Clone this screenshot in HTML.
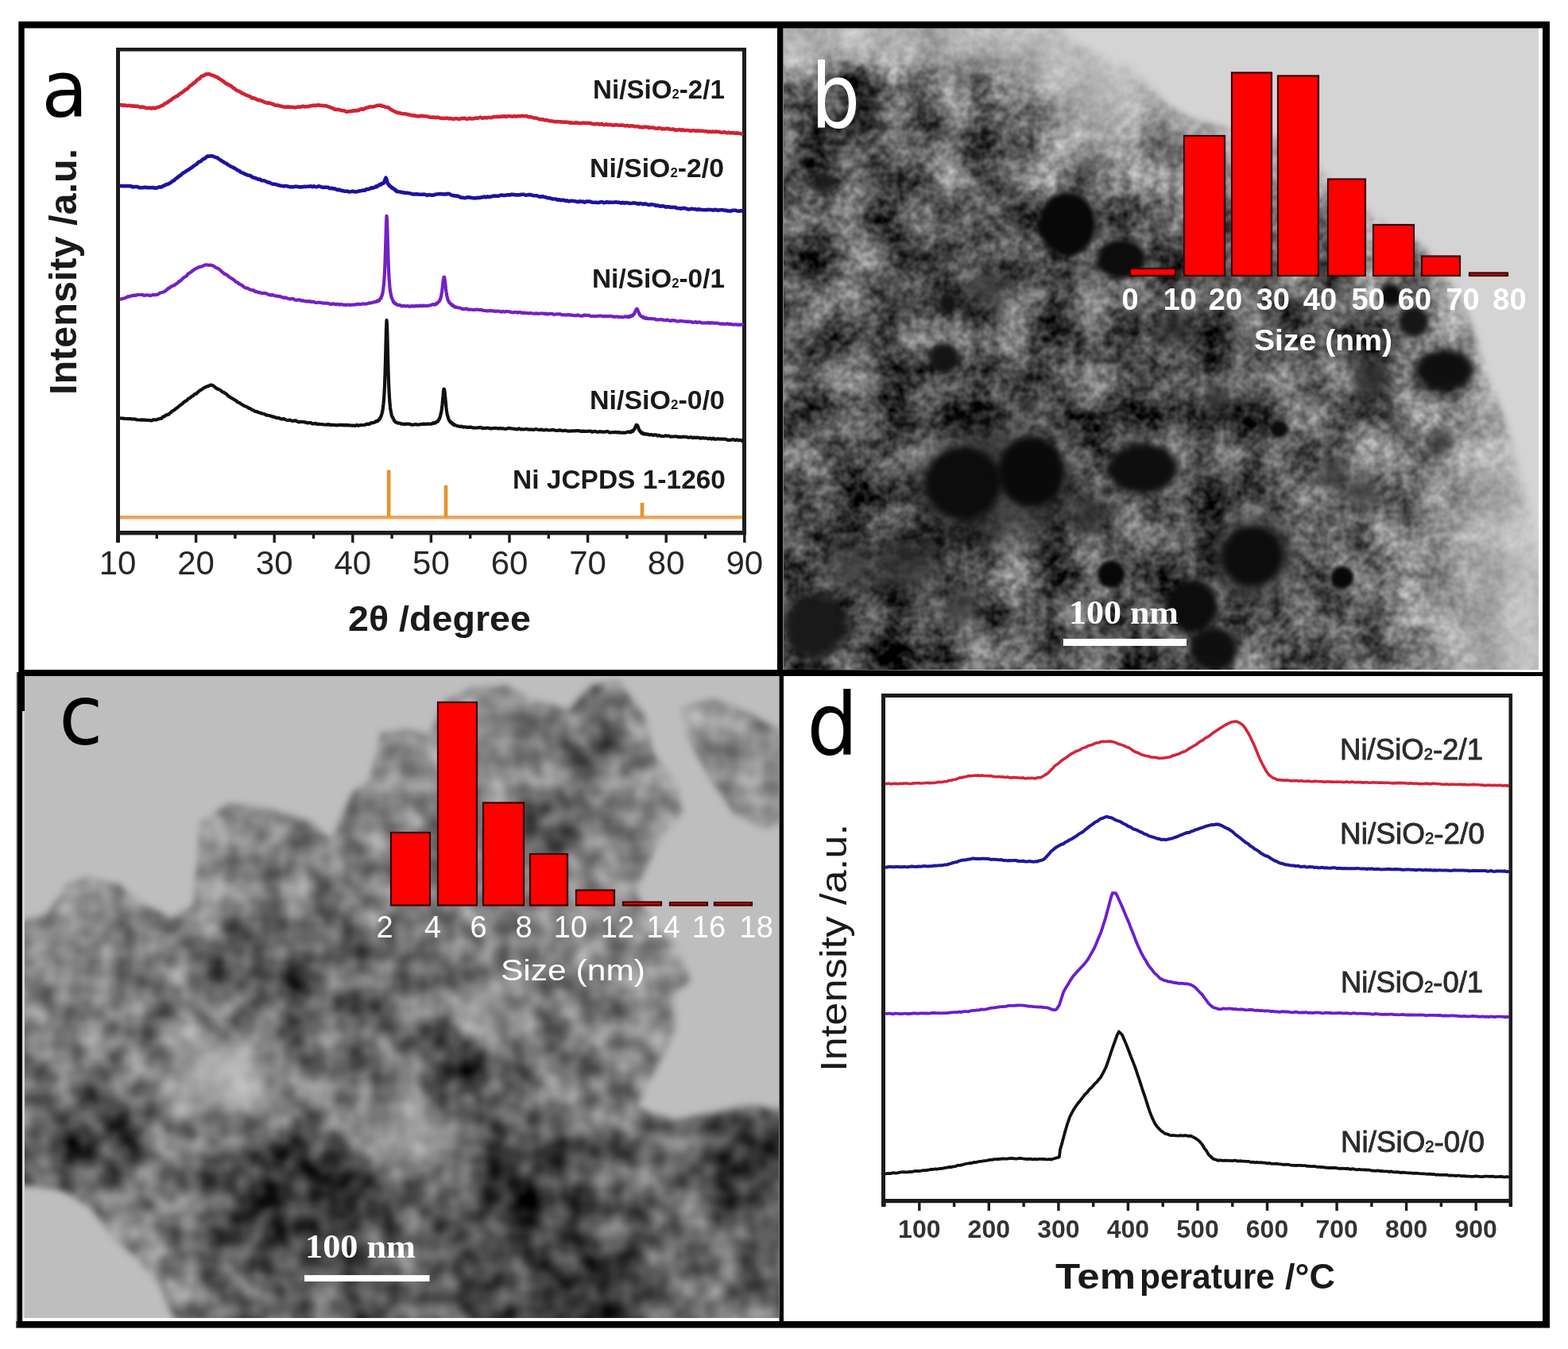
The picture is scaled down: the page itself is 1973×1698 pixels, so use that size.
<!DOCTYPE html><html><head><meta charset="utf-8"><title>Figure</title>
<style>html,body{margin:0;padding:0;background:#fff;overflow:hidden}svg{display:block}text{font-family:"Liberation Sans",Arial,sans-serif}</style></head><body>
<svg width="1973" height="1698" viewBox="0 0 1973 1698">
<rect x="0" y="0" width="1973" height="1698" fill="#fff"/>
<defs>
<clipPath id="clipB"><rect x="986" y="35" width="950" height="808"/></clipPath>
<clipPath id="clipC"><rect x="31" y="851" width="949" height="808"/></clipPath>
<filter id="texB" filterUnits="userSpaceOnUse" x="866" y="-85" width="1190" height="1048" color-interpolation-filters="sRGB">
<feGaussianBlur in="SourceGraphic" stdDeviation="15" result="base"/>
<feComponentTransfer in="base" result="mask"><feFuncR type="linear" slope="-2.8" intercept="2.3"/><feFuncG type="linear" slope="-2.8" intercept="2.3"/><feFuncB type="linear" slope="-2.8" intercept="2.3"/></feComponentTransfer>
<feTurbulence type="fractalNoise" baseFrequency="0.085" numOctaves="2" seed="11" result="n"/>
<feColorMatrix in="n" type="matrix" values="1 0 0 0 0  1 0 0 0 0  1 0 0 0 0  0 0 0 0 1" result="g"/>
<feComposite in="g" in2="mask" operator="arithmetic" k1="0.5" k2="0" k3="-0.25" k4="0.5" result="t"/>
<feComposite in="base" in2="t" operator="arithmetic" k1="0" k2="1" k3="1" k4="-0.5" result="o1"/>
<feTurbulence type="fractalNoise" baseFrequency="0.02" numOctaves="1" seed="16" result="cn"/>
<feColorMatrix in="cn" type="matrix" values="1 0 0 0 0  1 0 0 0 0  1 0 0 0 0  0 0 0 0 1" result="cg"/>
<feComposite in="cg" in2="mask" operator="arithmetic" k1="0.9" k2="0" k3="-0.45" k4="0.5" result="ct"/>
<feComposite in="o1" in2="ct" operator="arithmetic" k1="0" k2="1" k3="1" k4="-0.5"/>
</filter>
<filter id="texC" filterUnits="userSpaceOnUse" x="-89" y="731" width="1189" height="1048" color-interpolation-filters="sRGB">
<feGaussianBlur in="SourceGraphic" stdDeviation="20" result="base"/>
<feComponentTransfer in="base" result="mask"><feFuncR type="linear" slope="-3.0" intercept="2.4"/><feFuncG type="linear" slope="-3.0" intercept="2.4"/><feFuncB type="linear" slope="-3.0" intercept="2.4"/></feComponentTransfer>
<feTurbulence type="fractalNoise" baseFrequency="0.028" numOctaves="2" seed="23" result="n"/>
<feColorMatrix in="n" type="matrix" values="1 0 0 0 0  1 0 0 0 0  1 0 0 0 0  0 0 0 0 1" result="g"/>
<feComposite in="g" in2="mask" operator="arithmetic" k1="0.62" k2="0" k3="-0.31" k4="0.5" result="t"/>
<feComposite in="base" in2="t" operator="arithmetic" k1="0" k2="1" k3="1" k4="-0.5"/>
</filter>
<filter id="mblur" x="-10%" y="-10%" width="120%" height="120%"><feGaussianBlur stdDeviation="4"/></filter>
<filter id="soft" x="-30%" y="-30%" width="160%" height="160%"><feGaussianBlur stdDeviation="3"/></filter>
<filter id="soft2" x="-30%" y="-30%" width="160%" height="160%"><feGaussianBlur stdDeviation="6"/></filter>
</defs>
<mask id="mB" maskUnits="userSpaceOnUse" x="900" y="0" width="1100" height="900"><rect x="900" y="0" width="1100" height="900" fill="#fff"/><polygon points="1333,35 1353,54 1396,74 1421,83 1445,108 1469,132 1500,150 1560,165 1640,178 1672,229 1735,277 1784,306 1808,325 1837,374 1856,422 1871,471 1890,519 1905,567 1919,616 1929,664 1937,713 1950,713 1950,20 1320,20" fill="#000" filter="url(#mblur)"/></mask>
<g clip-path="url(#clipB)">
<rect x="986" y="35" width="950" height="808" fill="#d4d4d4"/>
<g mask="url(#mB)">
<g filter="url(#texB)"><rect x="818.5" y="-135.5" width="168.1" height="171.1" fill="#b4b4b4"/><rect x="986" y="-135.5" width="48.1" height="171.1" fill="#b4b4b4"/><rect x="1033.5" y="-135.5" width="48.1" height="171.1" fill="#b2b2b2"/><rect x="1081" y="-135.5" width="48.1" height="171.1" fill="#afafaf"/><rect x="1128.5" y="-135.5" width="48.1" height="171.1" fill="#acacac"/><rect x="1176" y="-135.5" width="48.1" height="171.1" fill="#b2b2b2"/><rect x="1223.5" y="-135.5" width="48.1" height="171.1" fill="#b4b4b4"/><rect x="1271" y="-135.5" width="48.1" height="171.1" fill="#b6b6b6"/><rect x="1318.5" y="-135.5" width="48.1" height="171.1" fill="#bababa"/><rect x="1366" y="-135.5" width="48.1" height="171.1" fill="#bebebe"/><rect x="1413.5" y="-135.5" width="48.1" height="171.1" fill="#bebebe"/><rect x="1461" y="-135.5" width="48.1" height="171.1" fill="#c4c4c4"/><rect x="1508.5" y="-135.5" width="48.1" height="171.1" fill="#c8c8c8"/><rect x="1556" y="-135.5" width="48.1" height="171.1" fill="#cccccc"/><rect x="1603.5" y="-135.5" width="48.1" height="171.1" fill="#cfcfcf"/><rect x="1651" y="-135.5" width="48.1" height="171.1" fill="#d1d1d1"/><rect x="1698.5" y="-135.5" width="48.1" height="171.1" fill="#d2d2d2"/><rect x="1746" y="-135.5" width="48.1" height="171.1" fill="#d4d4d4"/><rect x="1793.5" y="-135.5" width="48.1" height="171.1" fill="#d4d4d4"/><rect x="1841" y="-135.5" width="48.1" height="171.1" fill="#d4d4d4"/><rect x="1888.5" y="-135.5" width="48.1" height="171.1" fill="#d4d4d4"/><rect x="1936" y="-135.5" width="168.1" height="171.1" fill="#d4d4d4"/><rect x="818.5" y="35" width="168.1" height="51.1" fill="#b4b4b4"/><rect x="986" y="35" width="48.1" height="51.1" fill="#b4b4b4"/><rect x="1033.5" y="35" width="48.1" height="51.1" fill="#b2b2b2"/><rect x="1081" y="35" width="48.1" height="51.1" fill="#afafaf"/><rect x="1128.5" y="35" width="48.1" height="51.1" fill="#acacac"/><rect x="1176" y="35" width="48.1" height="51.1" fill="#b2b2b2"/><rect x="1223.5" y="35" width="48.1" height="51.1" fill="#b4b4b4"/><rect x="1271" y="35" width="48.1" height="51.1" fill="#b6b6b6"/><rect x="1318.5" y="35" width="48.1" height="51.1" fill="#bababa"/><rect x="1366" y="35" width="48.1" height="51.1" fill="#bebebe"/><rect x="1413.5" y="35" width="48.1" height="51.1" fill="#bebebe"/><rect x="1461" y="35" width="48.1" height="51.1" fill="#c4c4c4"/><rect x="1508.5" y="35" width="48.1" height="51.1" fill="#c8c8c8"/><rect x="1556" y="35" width="48.1" height="51.1" fill="#cccccc"/><rect x="1603.5" y="35" width="48.1" height="51.1" fill="#cfcfcf"/><rect x="1651" y="35" width="48.1" height="51.1" fill="#d1d1d1"/><rect x="1698.5" y="35" width="48.1" height="51.1" fill="#d2d2d2"/><rect x="1746" y="35" width="48.1" height="51.1" fill="#d4d4d4"/><rect x="1793.5" y="35" width="48.1" height="51.1" fill="#d4d4d4"/><rect x="1841" y="35" width="48.1" height="51.1" fill="#d4d4d4"/><rect x="1888.5" y="35" width="48.1" height="51.1" fill="#d4d4d4"/><rect x="1936" y="35" width="168.1" height="51.1" fill="#d4d4d4"/><rect x="818.5" y="85.5" width="168.1" height="51.1" fill="#737373"/><rect x="986" y="85.5" width="48.1" height="51.1" fill="#737373"/><rect x="1033.5" y="85.5" width="48.1" height="51.1" fill="#373737"/><rect x="1081" y="85.5" width="48.1" height="51.1" fill="#3a3a3a"/><rect x="1128.5" y="85.5" width="48.1" height="51.1" fill="#555555"/><rect x="1176" y="85.5" width="48.1" height="51.1" fill="#878787"/><rect x="1223.5" y="85.5" width="48.1" height="51.1" fill="#737373"/><rect x="1271" y="85.5" width="48.1" height="51.1" fill="#969696"/><rect x="1318.5" y="85.5" width="48.1" height="51.1" fill="#b4b4b4"/><rect x="1366" y="85.5" width="48.1" height="51.1" fill="#bebebe"/><rect x="1413.5" y="85.5" width="48.1" height="51.1" fill="#afafaf"/><rect x="1461" y="85.5" width="48.1" height="51.1" fill="#b6b6b6"/><rect x="1508.5" y="85.5" width="48.1" height="51.1" fill="#bdbdbd"/><rect x="1556" y="85.5" width="48.1" height="51.1" fill="#c5c5c5"/><rect x="1603.5" y="85.5" width="48.1" height="51.1" fill="#cbcbcb"/><rect x="1651" y="85.5" width="48.1" height="51.1" fill="#cecece"/><rect x="1698.5" y="85.5" width="48.1" height="51.1" fill="#d1d1d1"/><rect x="1746" y="85.5" width="48.1" height="51.1" fill="#d3d3d3"/><rect x="1793.5" y="85.5" width="48.1" height="51.1" fill="#d4d4d4"/><rect x="1841" y="85.5" width="48.1" height="51.1" fill="#d4d4d4"/><rect x="1888.5" y="85.5" width="48.1" height="51.1" fill="#d4d4d4"/><rect x="1936" y="85.5" width="168.1" height="51.1" fill="#d4d4d4"/><rect x="818.5" y="136" width="168.1" height="51.1" fill="#5a5a5a"/><rect x="986" y="136" width="48.1" height="51.1" fill="#5a5a5a"/><rect x="1033.5" y="136" width="48.1" height="51.1" fill="#373737"/><rect x="1081" y="136" width="48.1" height="51.1" fill="#373737"/><rect x="1128.5" y="136" width="48.1" height="51.1" fill="#4b4b4b"/><rect x="1176" y="136" width="48.1" height="51.1" fill="#878787"/><rect x="1223.5" y="136" width="48.1" height="51.1" fill="#464646"/><rect x="1271" y="136" width="48.1" height="51.1" fill="#505050"/><rect x="1318.5" y="136" width="48.1" height="51.1" fill="#969696"/><rect x="1366" y="136" width="48.1" height="51.1" fill="#a8a8a8"/><rect x="1413.5" y="136" width="48.1" height="51.1" fill="#919191"/><rect x="1461" y="136" width="48.1" height="51.1" fill="#9a9a9a"/><rect x="1508.5" y="136" width="48.1" height="51.1" fill="#a7a7a7"/><rect x="1556" y="136" width="48.1" height="51.1" fill="#b8b8b8"/><rect x="1603.5" y="136" width="48.1" height="51.1" fill="#c3c3c3"/><rect x="1651" y="136" width="48.1" height="51.1" fill="#c9c9c9"/><rect x="1698.5" y="136" width="48.1" height="51.1" fill="#cecece"/><rect x="1746" y="136" width="48.1" height="51.1" fill="#d1d1d1"/><rect x="1793.5" y="136" width="48.1" height="51.1" fill="#d3d3d3"/><rect x="1841" y="136" width="48.1" height="51.1" fill="#d4d4d4"/><rect x="1888.5" y="136" width="48.1" height="51.1" fill="#d4d4d4"/><rect x="1936" y="136" width="168.1" height="51.1" fill="#d4d4d4"/><rect x="818.5" y="186.5" width="168.1" height="51.1" fill="#555555"/><rect x="986" y="186.5" width="48.1" height="51.1" fill="#555555"/><rect x="1033.5" y="186.5" width="48.1" height="51.1" fill="#505050"/><rect x="1081" y="186.5" width="48.1" height="51.1" fill="#4b4b4b"/><rect x="1128.5" y="186.5" width="48.1" height="51.1" fill="#6e6e6e"/><rect x="1176" y="186.5" width="48.1" height="51.1" fill="#808080"/><rect x="1223.5" y="186.5" width="48.1" height="51.1" fill="#4b4b4b"/><rect x="1271" y="186.5" width="48.1" height="51.1" fill="#696969"/><rect x="1318.5" y="186.5" width="48.1" height="51.1" fill="#848484"/><rect x="1366" y="186.5" width="48.1" height="51.1" fill="#8c8c8c"/><rect x="1413.5" y="186.5" width="48.1" height="51.1" fill="#777777"/><rect x="1461" y="186.5" width="48.1" height="51.1" fill="#7f7f7f"/><rect x="1508.5" y="186.5" width="48.1" height="51.1" fill="#8d8d8d"/><rect x="1556" y="186.5" width="48.1" height="51.1" fill="#9f9f9f"/><rect x="1603.5" y="186.5" width="48.1" height="51.1" fill="#adadad"/><rect x="1651" y="186.5" width="48.1" height="51.1" fill="#b6b6b6"/><rect x="1698.5" y="186.5" width="48.1" height="51.1" fill="#bebebe"/><rect x="1746" y="186.5" width="48.1" height="51.1" fill="#c4c4c4"/><rect x="1793.5" y="186.5" width="48.1" height="51.1" fill="#c9c9c9"/><rect x="1841" y="186.5" width="48.1" height="51.1" fill="#cfcfcf"/><rect x="1888.5" y="186.5" width="48.1" height="51.1" fill="#d2d2d2"/><rect x="1936" y="186.5" width="168.1" height="51.1" fill="#d2d2d2"/><rect x="818.5" y="237" width="168.1" height="51.1" fill="#585858"/><rect x="986" y="237" width="48.1" height="51.1" fill="#585858"/><rect x="1033.5" y="237" width="48.1" height="51.1" fill="#565656"/><rect x="1081" y="237" width="48.1" height="51.1" fill="#525252"/><rect x="1128.5" y="237" width="48.1" height="51.1" fill="#515151"/><rect x="1176" y="237" width="48.1" height="51.1" fill="#535353"/><rect x="1223.5" y="237" width="48.1" height="51.1" fill="#545454"/><rect x="1271" y="237" width="48.1" height="51.1" fill="#555555"/><rect x="1318.5" y="237" width="48.1" height="51.1" fill="#585858"/><rect x="1366" y="237" width="48.1" height="51.1" fill="#5c5c5c"/><rect x="1413.5" y="237" width="48.1" height="51.1" fill="#616161"/><rect x="1461" y="237" width="48.1" height="51.1" fill="#666666"/><rect x="1508.5" y="237" width="48.1" height="51.1" fill="#6e6e6e"/><rect x="1556" y="237" width="48.1" height="51.1" fill="#7b7b7b"/><rect x="1603.5" y="237" width="48.1" height="51.1" fill="#888888"/><rect x="1651" y="237" width="48.1" height="51.1" fill="#959595"/><rect x="1698.5" y="237" width="48.1" height="51.1" fill="#a1a1a1"/><rect x="1746" y="237" width="48.1" height="51.1" fill="#ababab"/><rect x="1793.5" y="237" width="48.1" height="51.1" fill="#b7b7b7"/><rect x="1841" y="237" width="48.1" height="51.1" fill="#c5c5c5"/><rect x="1888.5" y="237" width="48.1" height="51.1" fill="#cccccc"/><rect x="1936" y="237" width="168.1" height="51.1" fill="#cccccc"/><rect x="818.5" y="287.5" width="168.1" height="51.1" fill="#5c5c5c"/><rect x="986" y="287.5" width="48.1" height="51.1" fill="#5c5c5c"/><rect x="1033.5" y="287.5" width="48.1" height="51.1" fill="#5a5a5a"/><rect x="1081" y="287.5" width="48.1" height="51.1" fill="#565656"/><rect x="1128.5" y="287.5" width="48.1" height="51.1" fill="#535353"/><rect x="1176" y="287.5" width="48.1" height="51.1" fill="#515151"/><rect x="1223.5" y="287.5" width="48.1" height="51.1" fill="#505050"/><rect x="1271" y="287.5" width="48.1" height="51.1" fill="#505050"/><rect x="1318.5" y="287.5" width="48.1" height="51.1" fill="#515151"/><rect x="1366" y="287.5" width="48.1" height="51.1" fill="#525252"/><rect x="1413.5" y="287.5" width="48.1" height="51.1" fill="#535353"/><rect x="1461" y="287.5" width="48.1" height="51.1" fill="#555555"/><rect x="1508.5" y="287.5" width="48.1" height="51.1" fill="#5a5a5a"/><rect x="1556" y="287.5" width="48.1" height="51.1" fill="#626262"/><rect x="1603.5" y="287.5" width="48.1" height="51.1" fill="#6c6c6c"/><rect x="1651" y="287.5" width="48.1" height="51.1" fill="#787878"/><rect x="1698.5" y="287.5" width="48.1" height="51.1" fill="#848484"/><rect x="1746" y="287.5" width="48.1" height="51.1" fill="#8f8f8f"/><rect x="1793.5" y="287.5" width="48.1" height="51.1" fill="#a0a0a0"/><rect x="1841" y="287.5" width="48.1" height="51.1" fill="#b7b7b7"/><rect x="1888.5" y="287.5" width="48.1" height="51.1" fill="#c2c2c2"/><rect x="1936" y="287.5" width="168.1" height="51.1" fill="#c2c2c2"/><rect x="818.5" y="338" width="168.1" height="51.1" fill="#5a5a5a"/><rect x="986" y="338" width="48.1" height="51.1" fill="#5a5a5a"/><rect x="1033.5" y="338" width="48.1" height="51.1" fill="#595959"/><rect x="1081" y="338" width="48.1" height="51.1" fill="#575757"/><rect x="1128.5" y="338" width="48.1" height="51.1" fill="#535353"/><rect x="1176" y="338" width="48.1" height="51.1" fill="#4d4d4d"/><rect x="1223.5" y="338" width="48.1" height="51.1" fill="#4c4c4c"/><rect x="1271" y="338" width="48.1" height="51.1" fill="#4f4f4f"/><rect x="1318.5" y="338" width="48.1" height="51.1" fill="#505050"/><rect x="1366" y="338" width="48.1" height="51.1" fill="#4f4f4f"/><rect x="1413.5" y="338" width="48.1" height="51.1" fill="#4e4e4e"/><rect x="1461" y="338" width="48.1" height="51.1" fill="#4d4d4d"/><rect x="1508.5" y="338" width="48.1" height="51.1" fill="#4f4f4f"/><rect x="1556" y="338" width="48.1" height="51.1" fill="#555555"/><rect x="1603.5" y="338" width="48.1" height="51.1" fill="#5a5a5a"/><rect x="1651" y="338" width="48.1" height="51.1" fill="#606060"/><rect x="1698.5" y="338" width="48.1" height="51.1" fill="#686868"/><rect x="1746" y="338" width="48.1" height="51.1" fill="#707070"/><rect x="1793.5" y="338" width="48.1" height="51.1" fill="#848484"/><rect x="1841" y="338" width="48.1" height="51.1" fill="#a4a4a4"/><rect x="1888.5" y="338" width="48.1" height="51.1" fill="#b4b4b4"/><rect x="1936" y="338" width="168.1" height="51.1" fill="#b4b4b4"/><rect x="818.5" y="388.5" width="168.1" height="51.1" fill="#575757"/><rect x="986" y="388.5" width="48.1" height="51.1" fill="#575757"/><rect x="1033.5" y="388.5" width="48.1" height="51.1" fill="#565656"/><rect x="1081" y="388.5" width="48.1" height="51.1" fill="#555555"/><rect x="1128.5" y="388.5" width="48.1" height="51.1" fill="#515151"/><rect x="1176" y="388.5" width="48.1" height="51.1" fill="#4b4b4b"/><rect x="1223.5" y="388.5" width="48.1" height="51.1" fill="#4a4a4a"/><rect x="1271" y="388.5" width="48.1" height="51.1" fill="#4d4d4d"/><rect x="1318.5" y="388.5" width="48.1" height="51.1" fill="#4e4e4e"/><rect x="1366" y="388.5" width="48.1" height="51.1" fill="#4d4d4d"/><rect x="1413.5" y="388.5" width="48.1" height="51.1" fill="#4c4c4c"/><rect x="1461" y="388.5" width="48.1" height="51.1" fill="#4a4a4a"/><rect x="1508.5" y="388.5" width="48.1" height="51.1" fill="#4c4c4c"/><rect x="1556" y="388.5" width="48.1" height="51.1" fill="#505050"/><rect x="1603.5" y="388.5" width="48.1" height="51.1" fill="#535353"/><rect x="1651" y="388.5" width="48.1" height="51.1" fill="#555555"/><rect x="1698.5" y="388.5" width="48.1" height="51.1" fill="#595959"/><rect x="1746" y="388.5" width="48.1" height="51.1" fill="#5f5f5f"/><rect x="1793.5" y="388.5" width="48.1" height="51.1" fill="#747474"/><rect x="1841" y="388.5" width="48.1" height="51.1" fill="#989898"/><rect x="1888.5" y="388.5" width="48.1" height="51.1" fill="#aaaaaa"/><rect x="1936" y="388.5" width="168.1" height="51.1" fill="#aaaaaa"/><rect x="818.5" y="439" width="168.1" height="51.1" fill="#515151"/><rect x="986" y="439" width="48.1" height="51.1" fill="#515151"/><rect x="1033.5" y="439" width="48.1" height="51.1" fill="#515151"/><rect x="1081" y="439" width="48.1" height="51.1" fill="#515151"/><rect x="1128.5" y="439" width="48.1" height="51.1" fill="#4f4f4f"/><rect x="1176" y="439" width="48.1" height="51.1" fill="#4a4a4a"/><rect x="1223.5" y="439" width="48.1" height="51.1" fill="#494949"/><rect x="1271" y="439" width="48.1" height="51.1" fill="#4b4b4b"/><rect x="1318.5" y="439" width="48.1" height="51.1" fill="#4c4c4c"/><rect x="1366" y="439" width="48.1" height="51.1" fill="#4e4e4e"/><rect x="1413.5" y="439" width="48.1" height="51.1" fill="#4e4e4e"/><rect x="1461" y="439" width="48.1" height="51.1" fill="#4d4d4d"/><rect x="1508.5" y="439" width="48.1" height="51.1" fill="#4f4f4f"/><rect x="1556" y="439" width="48.1" height="51.1" fill="#545454"/><rect x="1603.5" y="439" width="48.1" height="51.1" fill="#565656"/><rect x="1651" y="439" width="48.1" height="51.1" fill="#565656"/><rect x="1698.5" y="439" width="48.1" height="51.1" fill="#585858"/><rect x="1746" y="439" width="48.1" height="51.1" fill="#5c5c5c"/><rect x="1793.5" y="439" width="48.1" height="51.1" fill="#707070"/><rect x="1841" y="439" width="48.1" height="51.1" fill="#939393"/><rect x="1888.5" y="439" width="48.1" height="51.1" fill="#a4a4a4"/><rect x="1936" y="439" width="168.1" height="51.1" fill="#a4a4a4"/><rect x="818.5" y="489.5" width="168.1" height="51.1" fill="#505050"/><rect x="986" y="489.5" width="48.1" height="51.1" fill="#505050"/><rect x="1033.5" y="489.5" width="48.1" height="51.1" fill="#505050"/><rect x="1081" y="489.5" width="48.1" height="51.1" fill="#505050"/><rect x="1128.5" y="489.5" width="48.1" height="51.1" fill="#4e4e4e"/><rect x="1176" y="489.5" width="48.1" height="51.1" fill="#494949"/><rect x="1223.5" y="489.5" width="48.1" height="51.1" fill="#474747"/><rect x="1271" y="489.5" width="48.1" height="51.1" fill="#484848"/><rect x="1318.5" y="489.5" width="48.1" height="51.1" fill="#4a4a4a"/><rect x="1366" y="489.5" width="48.1" height="51.1" fill="#4d4d4d"/><rect x="1413.5" y="489.5" width="48.1" height="51.1" fill="#4e4e4e"/><rect x="1461" y="489.5" width="48.1" height="51.1" fill="#4e4e4e"/><rect x="1508.5" y="489.5" width="48.1" height="51.1" fill="#515151"/><rect x="1556" y="489.5" width="48.1" height="51.1" fill="#575757"/><rect x="1603.5" y="489.5" width="48.1" height="51.1" fill="#5a5a5a"/><rect x="1651" y="489.5" width="48.1" height="51.1" fill="#5a5a5a"/><rect x="1698.5" y="489.5" width="48.1" height="51.1" fill="#5c5c5c"/><rect x="1746" y="489.5" width="48.1" height="51.1" fill="#626262"/><rect x="1793.5" y="489.5" width="48.1" height="51.1" fill="#757575"/><rect x="1841" y="489.5" width="48.1" height="51.1" fill="#969696"/><rect x="1888.5" y="489.5" width="48.1" height="51.1" fill="#a6a6a6"/><rect x="1936" y="489.5" width="168.1" height="51.1" fill="#a6a6a6"/><rect x="818.5" y="540" width="168.1" height="51.1" fill="#545454"/><rect x="986" y="540" width="48.1" height="51.1" fill="#545454"/><rect x="1033.5" y="540" width="48.1" height="51.1" fill="#535353"/><rect x="1081" y="540" width="48.1" height="51.1" fill="#515151"/><rect x="1128.5" y="540" width="48.1" height="51.1" fill="#4d4d4d"/><rect x="1176" y="540" width="48.1" height="51.1" fill="#474747"/><rect x="1223.5" y="540" width="48.1" height="51.1" fill="#444444"/><rect x="1271" y="540" width="48.1" height="51.1" fill="#454545"/><rect x="1318.5" y="540" width="48.1" height="51.1" fill="#474747"/><rect x="1366" y="540" width="48.1" height="51.1" fill="#4b4b4b"/><rect x="1413.5" y="540" width="48.1" height="51.1" fill="#4c4c4c"/><rect x="1461" y="540" width="48.1" height="51.1" fill="#4c4c4c"/><rect x="1508.5" y="540" width="48.1" height="51.1" fill="#515151"/><rect x="1556" y="540" width="48.1" height="51.1" fill="#595959"/><rect x="1603.5" y="540" width="48.1" height="51.1" fill="#5e5e5e"/><rect x="1651" y="540" width="48.1" height="51.1" fill="#606060"/><rect x="1698.5" y="540" width="48.1" height="51.1" fill="#666666"/><rect x="1746" y="540" width="48.1" height="51.1" fill="#707070"/><rect x="1793.5" y="540" width="48.1" height="51.1" fill="#838383"/><rect x="1841" y="540" width="48.1" height="51.1" fill="#a0a0a0"/><rect x="1888.5" y="540" width="48.1" height="51.1" fill="#aeaeae"/><rect x="1936" y="540" width="168.1" height="51.1" fill="#aeaeae"/><rect x="818.5" y="590.5" width="168.1" height="51.1" fill="#525252"/><rect x="986" y="590.5" width="48.1" height="51.1" fill="#525252"/><rect x="1033.5" y="590.5" width="48.1" height="51.1" fill="#515151"/><rect x="1081" y="590.5" width="48.1" height="51.1" fill="#4e4e4e"/><rect x="1128.5" y="590.5" width="48.1" height="51.1" fill="#4a4a4a"/><rect x="1176" y="590.5" width="48.1" height="51.1" fill="#464646"/><rect x="1223.5" y="590.5" width="48.1" height="51.1" fill="#454545"/><rect x="1271" y="590.5" width="48.1" height="51.1" fill="#474747"/><rect x="1318.5" y="590.5" width="48.1" height="51.1" fill="#494949"/><rect x="1366" y="590.5" width="48.1" height="51.1" fill="#4b4b4b"/><rect x="1413.5" y="590.5" width="48.1" height="51.1" fill="#4c4c4c"/><rect x="1461" y="590.5" width="48.1" height="51.1" fill="#4c4c4c"/><rect x="1508.5" y="590.5" width="48.1" height="51.1" fill="#505050"/><rect x="1556" y="590.5" width="48.1" height="51.1" fill="#585858"/><rect x="1603.5" y="590.5" width="48.1" height="51.1" fill="#5e5e5e"/><rect x="1651" y="590.5" width="48.1" height="51.1" fill="#636363"/><rect x="1698.5" y="590.5" width="48.1" height="51.1" fill="#6b6b6b"/><rect x="1746" y="590.5" width="48.1" height="51.1" fill="#787878"/><rect x="1793.5" y="590.5" width="48.1" height="51.1" fill="#8c8c8c"/><rect x="1841" y="590.5" width="48.1" height="51.1" fill="#a7a7a7"/><rect x="1888.5" y="590.5" width="48.1" height="51.1" fill="#b4b4b4"/><rect x="1936" y="590.5" width="168.1" height="51.1" fill="#b4b4b4"/><rect x="818.5" y="641" width="168.1" height="51.1" fill="#4c4c4c"/><rect x="986" y="641" width="48.1" height="51.1" fill="#4c4c4c"/><rect x="1033.5" y="641" width="48.1" height="51.1" fill="#4a4a4a"/><rect x="1081" y="641" width="48.1" height="51.1" fill="#464646"/><rect x="1128.5" y="641" width="48.1" height="51.1" fill="#454545"/><rect x="1176" y="641" width="48.1" height="51.1" fill="#484848"/><rect x="1223.5" y="641" width="48.1" height="51.1" fill="#4b4b4b"/><rect x="1271" y="641" width="48.1" height="51.1" fill="#4e4e4e"/><rect x="1318.5" y="641" width="48.1" height="51.1" fill="#505050"/><rect x="1366" y="641" width="48.1" height="51.1" fill="#4f4f4f"/><rect x="1413.5" y="641" width="48.1" height="51.1" fill="#4e4e4e"/><rect x="1461" y="641" width="48.1" height="51.1" fill="#4d4d4d"/><rect x="1508.5" y="641" width="48.1" height="51.1" fill="#4f4f4f"/><rect x="1556" y="641" width="48.1" height="51.1" fill="#545454"/><rect x="1603.5" y="641" width="48.1" height="51.1" fill="#5b5b5b"/><rect x="1651" y="641" width="48.1" height="51.1" fill="#636363"/><rect x="1698.5" y="641" width="48.1" height="51.1" fill="#6d6d6d"/><rect x="1746" y="641" width="48.1" height="51.1" fill="#7a7a7a"/><rect x="1793.5" y="641" width="48.1" height="51.1" fill="#8f8f8f"/><rect x="1841" y="641" width="48.1" height="51.1" fill="#aaaaaa"/><rect x="1888.5" y="641" width="48.1" height="51.1" fill="#b8b8b8"/><rect x="1936" y="641" width="168.1" height="51.1" fill="#b8b8b8"/><rect x="818.5" y="691.5" width="168.1" height="51.1" fill="#454545"/><rect x="986" y="691.5" width="48.1" height="51.1" fill="#454545"/><rect x="1033.5" y="691.5" width="48.1" height="51.1" fill="#444444"/><rect x="1081" y="691.5" width="48.1" height="51.1" fill="#424242"/><rect x="1128.5" y="691.5" width="48.1" height="51.1" fill="#444444"/><rect x="1176" y="691.5" width="48.1" height="51.1" fill="#4a4a4a"/><rect x="1223.5" y="691.5" width="48.1" height="51.1" fill="#4f4f4f"/><rect x="1271" y="691.5" width="48.1" height="51.1" fill="#535353"/><rect x="1318.5" y="691.5" width="48.1" height="51.1" fill="#545454"/><rect x="1366" y="691.5" width="48.1" height="51.1" fill="#515151"/><rect x="1413.5" y="691.5" width="48.1" height="51.1" fill="#4f4f4f"/><rect x="1461" y="691.5" width="48.1" height="51.1" fill="#4c4c4c"/><rect x="1508.5" y="691.5" width="48.1" height="51.1" fill="#4d4d4d"/><rect x="1556" y="691.5" width="48.1" height="51.1" fill="#525252"/><rect x="1603.5" y="691.5" width="48.1" height="51.1" fill="#5a5a5a"/><rect x="1651" y="691.5" width="48.1" height="51.1" fill="#636363"/><rect x="1698.5" y="691.5" width="48.1" height="51.1" fill="#6e6e6e"/><rect x="1746" y="691.5" width="48.1" height="51.1" fill="#7c7c7c"/><rect x="1793.5" y="691.5" width="48.1" height="51.1" fill="#909090"/><rect x="1841" y="691.5" width="48.1" height="51.1" fill="#acacac"/><rect x="1888.5" y="691.5" width="48.1" height="51.1" fill="#bababa"/><rect x="1936" y="691.5" width="168.1" height="51.1" fill="#bababa"/><rect x="818.5" y="742" width="168.1" height="51.1" fill="#3f3f3f"/><rect x="986" y="742" width="48.1" height="51.1" fill="#3f3f3f"/><rect x="1033.5" y="742" width="48.1" height="51.1" fill="#404040"/><rect x="1081" y="742" width="48.1" height="51.1" fill="#434343"/><rect x="1128.5" y="742" width="48.1" height="51.1" fill="#484848"/><rect x="1176" y="742" width="48.1" height="51.1" fill="#4e4e4e"/><rect x="1223.5" y="742" width="48.1" height="51.1" fill="#525252"/><rect x="1271" y="742" width="48.1" height="51.1" fill="#555555"/><rect x="1318.5" y="742" width="48.1" height="51.1" fill="#555555"/><rect x="1366" y="742" width="48.1" height="51.1" fill="#525252"/><rect x="1413.5" y="742" width="48.1" height="51.1" fill="#4e4e4e"/><rect x="1461" y="742" width="48.1" height="51.1" fill="#4a4a4a"/><rect x="1508.5" y="742" width="48.1" height="51.1" fill="#4b4b4b"/><rect x="1556" y="742" width="48.1" height="51.1" fill="#535353"/><rect x="1603.5" y="742" width="48.1" height="51.1" fill="#5b5b5b"/><rect x="1651" y="742" width="48.1" height="51.1" fill="#646464"/><rect x="1698.5" y="742" width="48.1" height="51.1" fill="#6e6e6e"/><rect x="1746" y="742" width="48.1" height="51.1" fill="#7c7c7c"/><rect x="1793.5" y="742" width="48.1" height="51.1" fill="#909090"/><rect x="1841" y="742" width="48.1" height="51.1" fill="#adadad"/><rect x="1888.5" y="742" width="48.1" height="51.1" fill="#bcbcbc"/><rect x="1936" y="742" width="168.1" height="51.1" fill="#bcbcbc"/><rect x="818.5" y="792.5" width="168.1" height="51.1" fill="#3c3c3c"/><rect x="986" y="792.5" width="48.1" height="51.1" fill="#3c3c3c"/><rect x="1033.5" y="792.5" width="48.1" height="51.1" fill="#3e3e3e"/><rect x="1081" y="792.5" width="48.1" height="51.1" fill="#444444"/><rect x="1128.5" y="792.5" width="48.1" height="51.1" fill="#494949"/><rect x="1176" y="792.5" width="48.1" height="51.1" fill="#4f4f4f"/><rect x="1223.5" y="792.5" width="48.1" height="51.1" fill="#545454"/><rect x="1271" y="792.5" width="48.1" height="51.1" fill="#565656"/><rect x="1318.5" y="792.5" width="48.1" height="51.1" fill="#565656"/><rect x="1366" y="792.5" width="48.1" height="51.1" fill="#525252"/><rect x="1413.5" y="792.5" width="48.1" height="51.1" fill="#4e4e4e"/><rect x="1461" y="792.5" width="48.1" height="51.1" fill="#484848"/><rect x="1508.5" y="792.5" width="48.1" height="51.1" fill="#4a4a4a"/><rect x="1556" y="792.5" width="48.1" height="51.1" fill="#545454"/><rect x="1603.5" y="792.5" width="48.1" height="51.1" fill="#5c5c5c"/><rect x="1651" y="792.5" width="48.1" height="51.1" fill="#646464"/><rect x="1698.5" y="792.5" width="48.1" height="51.1" fill="#6e6e6e"/><rect x="1746" y="792.5" width="48.1" height="51.1" fill="#7c7c7c"/><rect x="1793.5" y="792.5" width="48.1" height="51.1" fill="#909090"/><rect x="1841" y="792.5" width="48.1" height="51.1" fill="#aeaeae"/><rect x="1888.5" y="792.5" width="48.1" height="51.1" fill="#bcbcbc"/><rect x="1936" y="792.5" width="168.1" height="51.1" fill="#bcbcbc"/><rect x="818.5" y="843" width="168.1" height="171.1" fill="#3c3c3c"/><rect x="986" y="843" width="48.1" height="171.1" fill="#3c3c3c"/><rect x="1033.5" y="843" width="48.1" height="171.1" fill="#3e3e3e"/><rect x="1081" y="843" width="48.1" height="171.1" fill="#444444"/><rect x="1128.5" y="843" width="48.1" height="171.1" fill="#494949"/><rect x="1176" y="843" width="48.1" height="171.1" fill="#4f4f4f"/><rect x="1223.5" y="843" width="48.1" height="171.1" fill="#545454"/><rect x="1271" y="843" width="48.1" height="171.1" fill="#565656"/><rect x="1318.5" y="843" width="48.1" height="171.1" fill="#565656"/><rect x="1366" y="843" width="48.1" height="171.1" fill="#525252"/><rect x="1413.5" y="843" width="48.1" height="171.1" fill="#4e4e4e"/><rect x="1461" y="843" width="48.1" height="171.1" fill="#484848"/><rect x="1508.5" y="843" width="48.1" height="171.1" fill="#4a4a4a"/><rect x="1556" y="843" width="48.1" height="171.1" fill="#545454"/><rect x="1603.5" y="843" width="48.1" height="171.1" fill="#5c5c5c"/><rect x="1651" y="843" width="48.1" height="171.1" fill="#646464"/><rect x="1698.5" y="843" width="48.1" height="171.1" fill="#6e6e6e"/><rect x="1746" y="843" width="48.1" height="171.1" fill="#7c7c7c"/><rect x="1793.5" y="843" width="48.1" height="171.1" fill="#909090"/><rect x="1841" y="843" width="48.1" height="171.1" fill="#aeaeae"/><rect x="1888.5" y="843" width="48.1" height="171.1" fill="#bcbcbc"/><rect x="1936" y="843" width="168.1" height="171.1" fill="#bcbcbc"/></g>
<ellipse cx="1142" cy="711" rx="40" ry="36" fill="#282828" fill-opacity="0.75" style="filter:blur(14px)"/>
<ellipse cx="1070" cy="716" rx="30" ry="30" fill="#373737" fill-opacity="0.75" style="filter:blur(14px)"/>
<ellipse cx="1250" cy="610" rx="100" ry="70" fill="#323232" fill-opacity="0.75" style="filter:blur(20px)"/>
<ellipse cx="1370" cy="647" rx="22" ry="22" fill="#2d2d2d" fill-opacity="0.75" style="filter:blur(8px)"/>
<ellipse cx="1242" cy="364" rx="26" ry="24" fill="#323232" fill-opacity="0.75" style="filter:blur(10px)"/>
<ellipse cx="1479" cy="412" rx="20" ry="20" fill="#2d2d2d" fill-opacity="0.75" style="filter:blur(9px)"/>
<ellipse cx="1725" cy="476" rx="24" ry="24" fill="#2d2d2d" fill-opacity="0.75" style="filter:blur(8px)"/>
<ellipse cx="1532" cy="503" rx="15" ry="15" fill="#2d2d2d" fill-opacity="0.75" style="filter:blur(6px)"/>
<ellipse cx="1812" cy="556" rx="15" ry="15" fill="#323232" fill-opacity="0.75" style="filter:blur(6px)"/>
<ellipse cx="1677" cy="597" rx="20" ry="20" fill="#3c3c3c" fill-opacity="0.75" style="filter:blur(8px)"/>
<ellipse cx="1576" cy="700" rx="52" ry="52" fill="#2d2d2d" fill-opacity="0.75" style="filter:blur(12px)"/>
<ellipse cx="1713" cy="621" rx="20" ry="20" fill="#464646" fill-opacity="0.75" style="filter:blur(8px)"/>
<ellipse cx="1208" cy="764" rx="20" ry="24" fill="#2d2d2d" fill-opacity="0.75" style="filter:blur(10px)"/>
<ellipse cx="1296" cy="512" rx="10" ry="10" fill="#282828" fill-opacity="0.75" style="filter:blur(4px)"/>
<ellipse cx="1343" cy="282" rx="36" ry="40" fill="#080808" style="filter:blur(3px)"/>
<ellipse cx="1411" cy="326" rx="30" ry="24" fill="#0c0c0c" style="filter:blur(3px)"/>
<ellipse cx="1212" cy="608" rx="48" ry="46" fill="#0c0c0c" style="filter:blur(5px)"/>
<ellipse cx="1297" cy="594" rx="42" ry="44" fill="#0a0a0a" style="filter:blur(4px)"/>
<ellipse cx="1438" cy="590" rx="44" ry="32" fill="#0e0e0e" style="filter:blur(5px)"/>
<ellipse cx="1576" cy="700" rx="38" ry="38" fill="#0c0c0c" style="filter:blur(4px)"/>
<ellipse cx="1500" cy="763" rx="33" ry="33" fill="#0c0c0c" style="filter:blur(4px)"/>
<ellipse cx="1025" cy="788" rx="40" ry="42" fill="#191919" style="filter:blur(7px)"/>
<ellipse cx="1188" cy="451" rx="18" ry="18" fill="#141414" style="filter:blur(3px)"/>
<ellipse cx="1818" cy="466" rx="36" ry="26" fill="#0f0f0f" style="filter:blur(5px)"/>
<ellipse cx="1779" cy="405" rx="18" ry="18" fill="#161616" style="filter:blur(3px)"/>
<ellipse cx="1689" cy="727" rx="14" ry="14" fill="#080808" style="filter:blur(2px)"/>
<ellipse cx="1398" cy="723" rx="17" ry="17" fill="#080808" style="filter:blur(2px)"/>
<ellipse cx="1609" cy="540" rx="11" ry="11" fill="#0c0c0c" style="filter:blur(2px)"/>
<ellipse cx="1527" cy="817" rx="30" ry="28" fill="#0f0f0f" style="filter:blur(4px)"/>
<ellipse cx="1750" cy="372" rx="15" ry="15" fill="#0c0c0c" style="filter:blur(3px)"/>
<ellipse cx="1036" cy="230" rx="12" ry="12" fill="#1e1e1e" style="filter:blur(4px)"/>
<ellipse cx="1192" cy="383" rx="10" ry="10" fill="#141414" style="filter:blur(3px)"/>
</g>
</g>
<g stroke="#3a0000" stroke-width="2.2" fill="#ff0000">
<rect x="1422" y="338" width="57" height="9"/>
<rect x="1490" y="171" width="51" height="176"/>
<rect x="1550" y="91.5" width="50" height="255.5"/>
<rect x="1608" y="95.5" width="51" height="251.5"/>
<rect x="1671" y="225.5" width="47" height="121.5"/>
<rect x="1728" y="283" width="51" height="64"/>
<rect x="1789" y="322.5" width="48" height="24.5"/>
<rect x="1849" y="343.5" width="48" height="3.5"/>
</g>
<g fill="#fff" font-size="38" font-weight="bold" text-anchor="middle">
<text x="1422" y="389.5">0</text>
<text x="1484.8" y="389.5">10</text>
<text x="1542" y="389.5">20</text>
<text x="1601.8" y="389.5">30</text>
<text x="1661" y="389.5">40</text>
<text x="1721.6" y="389.5">50</text>
<text x="1780" y="389.5">60</text>
<text x="1840.6" y="389.5">70</text>
<text x="1899.5" y="389.5">80</text>
</g>
<text x="1578" y="441" fill="#fff" font-size="36" font-weight="bold" textLength="174" lengthAdjust="spacingAndGlyphs">Size (nm)</text>
<text transform="translate(1020.2 160) scale(0.877 1)" fill="#fff" font-size="111.7" style="font-family:'DejaVu Sans',sans-serif">b</text>
<text x="1345" y="784.5" fill="#fff" font-size="42" font-weight="bold" font-family="Liberation Serif" style="font-family:'Liberation Serif',serif" textLength="138" lengthAdjust="spacingAndGlyphs">100 nm</text>
<rect x="1338" y="804" width="155" height="9" fill="#fff"/>
<mask id="mC" maskUnits="userSpaceOnUse" x="0" y="830" width="1000" height="860"><g filter="url(#mblur)" fill="#fff"><polygon points="31,1159 60,1150 84,1113 108,1104 151,1113 175,1135 214,1154 243,1140 252,1034 291,1010 344,1020 392,1034 416,1053 445,995 464,986 479,923 512,916 541,923 561,880 599,865 638,863 671,880 715,894 744,861 777,856 811,899 821,947 850,986 859,1020 825,1068 801,1121 821,1164 850,1188 869,1236 850,1250 850,1298 825,1346 801,1394 850,1409 898,1399 946,1390 990,1394 990,1670 224,1670 200,1616 175,1587 142,1558 113,1520 79,1500 20,1491 20,1159"/><polygon points="859,890 898,880 946,899 990,923 990,1034 965,1044 922,1024 888,971 864,923"/></g></mask>
<g clip-path="url(#clipC)">
<rect x="31" y="851" width="949" height="808" fill="#bebebe"/>
<g mask="url(#mC)"><g filter="url(#texC)"><rect x="-168.1" y="650.2" width="199.7" height="201.4" fill="#969696"/><rect x="31" y="650.2" width="79.7" height="201.4" fill="#969696"/><rect x="110.1" y="650.2" width="79.7" height="201.4" fill="#969696"/><rect x="189.2" y="650.2" width="79.7" height="201.4" fill="#969696"/><rect x="268.2" y="650.2" width="79.7" height="201.4" fill="#969696"/><rect x="347.3" y="650.2" width="79.7" height="201.4" fill="#969696"/><rect x="426.4" y="650.2" width="79.7" height="201.4" fill="#969696"/><rect x="505.5" y="650.2" width="79.7" height="201.4" fill="#969696"/><rect x="584.6" y="650.2" width="79.7" height="201.4" fill="#8c8c8c"/><rect x="663.7" y="650.2" width="79.7" height="201.4" fill="#8c8c8c"/><rect x="742.8" y="650.2" width="79.7" height="201.4" fill="#828282"/><rect x="821.8" y="650.2" width="79.7" height="201.4" fill="#919191"/><rect x="900.9" y="650.2" width="79.7" height="201.4" fill="#8c8c8c"/><rect x="980" y="650.2" width="199.7" height="201.4" fill="#8c8c8c"/><rect x="-168.1" y="851" width="199.7" height="81.4" fill="#969696"/><rect x="31" y="851" width="79.7" height="81.4" fill="#969696"/><rect x="110.1" y="851" width="79.7" height="81.4" fill="#969696"/><rect x="189.2" y="851" width="79.7" height="81.4" fill="#969696"/><rect x="268.2" y="851" width="79.7" height="81.4" fill="#969696"/><rect x="347.3" y="851" width="79.7" height="81.4" fill="#969696"/><rect x="426.4" y="851" width="79.7" height="81.4" fill="#969696"/><rect x="505.5" y="851" width="79.7" height="81.4" fill="#969696"/><rect x="584.6" y="851" width="79.7" height="81.4" fill="#8c8c8c"/><rect x="663.7" y="851" width="79.7" height="81.4" fill="#8c8c8c"/><rect x="742.8" y="851" width="79.7" height="81.4" fill="#828282"/><rect x="821.8" y="851" width="79.7" height="81.4" fill="#919191"/><rect x="900.9" y="851" width="79.7" height="81.4" fill="#8c8c8c"/><rect x="980" y="851" width="199.7" height="81.4" fill="#8c8c8c"/><rect x="-168.1" y="931.8" width="199.7" height="81.4" fill="#969696"/><rect x="31" y="931.8" width="79.7" height="81.4" fill="#969696"/><rect x="110.1" y="931.8" width="79.7" height="81.4" fill="#969696"/><rect x="189.2" y="931.8" width="79.7" height="81.4" fill="#969696"/><rect x="268.2" y="931.8" width="79.7" height="81.4" fill="#969696"/><rect x="347.3" y="931.8" width="79.7" height="81.4" fill="#969696"/><rect x="426.4" y="931.8" width="79.7" height="81.4" fill="#8c8c8c"/><rect x="505.5" y="931.8" width="79.7" height="81.4" fill="#878787"/><rect x="584.6" y="931.8" width="79.7" height="81.4" fill="#828282"/><rect x="663.7" y="931.8" width="79.7" height="81.4" fill="#7d7d7d"/><rect x="742.8" y="931.8" width="79.7" height="81.4" fill="#7d7d7d"/><rect x="821.8" y="931.8" width="79.7" height="81.4" fill="#8c8c8c"/><rect x="900.9" y="931.8" width="79.7" height="81.4" fill="#878787"/><rect x="980" y="931.8" width="199.7" height="81.4" fill="#878787"/><rect x="-168.1" y="1012.6" width="199.7" height="81.4" fill="#969696"/><rect x="31" y="1012.6" width="79.7" height="81.4" fill="#969696"/><rect x="110.1" y="1012.6" width="79.7" height="81.4" fill="#969696"/><rect x="189.2" y="1012.6" width="79.7" height="81.4" fill="#969696"/><rect x="268.2" y="1012.6" width="79.7" height="81.4" fill="#878787"/><rect x="347.3" y="1012.6" width="79.7" height="81.4" fill="#828282"/><rect x="426.4" y="1012.6" width="79.7" height="81.4" fill="#828282"/><rect x="505.5" y="1012.6" width="79.7" height="81.4" fill="#7d7d7d"/><rect x="584.6" y="1012.6" width="79.7" height="81.4" fill="#7d7d7d"/><rect x="663.7" y="1012.6" width="79.7" height="81.4" fill="#828282"/><rect x="742.8" y="1012.6" width="79.7" height="81.4" fill="#828282"/><rect x="821.8" y="1012.6" width="79.7" height="81.4" fill="#969696"/><rect x="900.9" y="1012.6" width="79.7" height="81.4" fill="#969696"/><rect x="980" y="1012.6" width="199.7" height="81.4" fill="#969696"/><rect x="-168.1" y="1093.4" width="199.7" height="81.4" fill="#8c8c8c"/><rect x="31" y="1093.4" width="79.7" height="81.4" fill="#8c8c8c"/><rect x="110.1" y="1093.4" width="79.7" height="81.4" fill="#878787"/><rect x="189.2" y="1093.4" width="79.7" height="81.4" fill="#8c8c8c"/><rect x="268.2" y="1093.4" width="79.7" height="81.4" fill="#7d7d7d"/><rect x="347.3" y="1093.4" width="79.7" height="81.4" fill="#737373"/><rect x="426.4" y="1093.4" width="79.7" height="81.4" fill="#787878"/><rect x="505.5" y="1093.4" width="79.7" height="81.4" fill="#7d7d7d"/><rect x="584.6" y="1093.4" width="79.7" height="81.4" fill="#828282"/><rect x="663.7" y="1093.4" width="79.7" height="81.4" fill="#878787"/><rect x="742.8" y="1093.4" width="79.7" height="81.4" fill="#8c8c8c"/><rect x="821.8" y="1093.4" width="79.7" height="81.4" fill="#969696"/><rect x="900.9" y="1093.4" width="79.7" height="81.4" fill="#969696"/><rect x="980" y="1093.4" width="199.7" height="81.4" fill="#969696"/><rect x="-168.1" y="1174.2" width="199.7" height="81.4" fill="#808080"/><rect x="31" y="1174.2" width="79.7" height="81.4" fill="#808080"/><rect x="110.1" y="1174.2" width="79.7" height="81.4" fill="#7a7a7a"/><rect x="189.2" y="1174.2" width="79.7" height="81.4" fill="#727272"/><rect x="268.2" y="1174.2" width="79.7" height="81.4" fill="#686868"/><rect x="347.3" y="1174.2" width="79.7" height="81.4" fill="#5e5e5e"/><rect x="426.4" y="1174.2" width="79.7" height="81.4" fill="#666666"/><rect x="505.5" y="1174.2" width="79.7" height="81.4" fill="#6e6e6e"/><rect x="584.6" y="1174.2" width="79.7" height="81.4" fill="#767676"/><rect x="663.7" y="1174.2" width="79.7" height="81.4" fill="#7a7a7a"/><rect x="742.8" y="1174.2" width="79.7" height="81.4" fill="#848484"/><rect x="821.8" y="1174.2" width="79.7" height="81.4" fill="#969696"/><rect x="900.9" y="1174.2" width="79.7" height="81.4" fill="#969696"/><rect x="980" y="1174.2" width="199.7" height="81.4" fill="#969696"/><rect x="-168.1" y="1255" width="199.7" height="81.4" fill="#7e7e7e"/><rect x="31" y="1255" width="79.7" height="81.4" fill="#7e7e7e"/><rect x="110.1" y="1255" width="79.7" height="81.4" fill="#767676"/><rect x="189.2" y="1255" width="79.7" height="81.4" fill="#7a7a7a"/><rect x="268.2" y="1255" width="79.7" height="81.4" fill="#747474"/><rect x="347.3" y="1255" width="79.7" height="81.4" fill="#6a6a6a"/><rect x="426.4" y="1255" width="79.7" height="81.4" fill="#666666"/><rect x="505.5" y="1255" width="79.7" height="81.4" fill="#6e6e6e"/><rect x="584.6" y="1255" width="79.7" height="81.4" fill="#727272"/><rect x="663.7" y="1255" width="79.7" height="81.4" fill="#747474"/><rect x="742.8" y="1255" width="79.7" height="81.4" fill="#7c7c7c"/><rect x="821.8" y="1255" width="79.7" height="81.4" fill="#969696"/><rect x="900.9" y="1255" width="79.7" height="81.4" fill="#969696"/><rect x="980" y="1255" width="199.7" height="81.4" fill="#969696"/><rect x="-168.1" y="1335.8" width="199.7" height="81.4" fill="#707070"/><rect x="31" y="1335.8" width="79.7" height="81.4" fill="#707070"/><rect x="110.1" y="1335.8" width="79.7" height="81.4" fill="#7d7d7d"/><rect x="189.2" y="1335.8" width="79.7" height="81.4" fill="#8c8c8c"/><rect x="268.2" y="1335.8" width="79.7" height="81.4" fill="#969696"/><rect x="347.3" y="1335.8" width="79.7" height="81.4" fill="#787878"/><rect x="426.4" y="1335.8" width="79.7" height="81.4" fill="#696969"/><rect x="505.5" y="1335.8" width="79.7" height="81.4" fill="#5c5c5c"/><rect x="584.6" y="1335.8" width="79.7" height="81.4" fill="#646464"/><rect x="663.7" y="1335.8" width="79.7" height="81.4" fill="#787878"/><rect x="742.8" y="1335.8" width="79.7" height="81.4" fill="#787878"/><rect x="821.8" y="1335.8" width="79.7" height="81.4" fill="#919191"/><rect x="900.9" y="1335.8" width="79.7" height="81.4" fill="#919191"/><rect x="980" y="1335.8" width="199.7" height="81.4" fill="#919191"/><rect x="-168.1" y="1416.6" width="199.7" height="81.4" fill="#606060"/><rect x="31" y="1416.6" width="79.7" height="81.4" fill="#606060"/><rect x="110.1" y="1416.6" width="79.7" height="81.4" fill="#646464"/><rect x="189.2" y="1416.6" width="79.7" height="81.4" fill="#767676"/><rect x="268.2" y="1416.6" width="79.7" height="81.4" fill="#5f5f5f"/><rect x="347.3" y="1416.6" width="79.7" height="81.4" fill="#555555"/><rect x="426.4" y="1416.6" width="79.7" height="81.4" fill="#626262"/><rect x="505.5" y="1416.6" width="79.7" height="81.4" fill="#707070"/><rect x="584.6" y="1416.6" width="79.7" height="81.4" fill="#6c6c6c"/><rect x="663.7" y="1416.6" width="79.7" height="81.4" fill="#5f5f5f"/><rect x="742.8" y="1416.6" width="79.7" height="81.4" fill="#5a5a5a"/><rect x="821.8" y="1416.6" width="79.7" height="81.4" fill="#696969"/><rect x="900.9" y="1416.6" width="79.7" height="81.4" fill="#505050"/><rect x="980" y="1416.6" width="199.7" height="81.4" fill="#505050"/><rect x="-168.1" y="1497.4" width="199.7" height="81.4" fill="#8c8c8c"/><rect x="31" y="1497.4" width="79.7" height="81.4" fill="#8c8c8c"/><rect x="110.1" y="1497.4" width="79.7" height="81.4" fill="#8c8c8c"/><rect x="189.2" y="1497.4" width="79.7" height="81.4" fill="#6e6e6e"/><rect x="268.2" y="1497.4" width="79.7" height="81.4" fill="#4b4b4b"/><rect x="347.3" y="1497.4" width="79.7" height="81.4" fill="#3c3c3c"/><rect x="426.4" y="1497.4" width="79.7" height="81.4" fill="#525252"/><rect x="505.5" y="1497.4" width="79.7" height="81.4" fill="#626262"/><rect x="584.6" y="1497.4" width="79.7" height="81.4" fill="#555555"/><rect x="663.7" y="1497.4" width="79.7" height="81.4" fill="#585858"/><rect x="742.8" y="1497.4" width="79.7" height="81.4" fill="#626262"/><rect x="821.8" y="1497.4" width="79.7" height="81.4" fill="#696969"/><rect x="900.9" y="1497.4" width="79.7" height="81.4" fill="#5a5a5a"/><rect x="980" y="1497.4" width="199.7" height="81.4" fill="#5a5a5a"/><rect x="-168.1" y="1578.2" width="199.7" height="81.4" fill="#8c8c8c"/><rect x="31" y="1578.2" width="79.7" height="81.4" fill="#8c8c8c"/><rect x="110.1" y="1578.2" width="79.7" height="81.4" fill="#8c8c8c"/><rect x="189.2" y="1578.2" width="79.7" height="81.4" fill="#737373"/><rect x="268.2" y="1578.2" width="79.7" height="81.4" fill="#646464"/><rect x="347.3" y="1578.2" width="79.7" height="81.4" fill="#585858"/><rect x="426.4" y="1578.2" width="79.7" height="81.4" fill="#585858"/><rect x="505.5" y="1578.2" width="79.7" height="81.4" fill="#5f5f5f"/><rect x="584.6" y="1578.2" width="79.7" height="81.4" fill="#464646"/><rect x="663.7" y="1578.2" width="79.7" height="81.4" fill="#414141"/><rect x="742.8" y="1578.2" width="79.7" height="81.4" fill="#585858"/><rect x="821.8" y="1578.2" width="79.7" height="81.4" fill="#696969"/><rect x="900.9" y="1578.2" width="79.7" height="81.4" fill="#696969"/><rect x="980" y="1578.2" width="199.7" height="81.4" fill="#696969"/><rect x="-168.1" y="1659" width="199.7" height="201.4" fill="#8c8c8c"/><rect x="31" y="1659" width="79.7" height="201.4" fill="#8c8c8c"/><rect x="110.1" y="1659" width="79.7" height="201.4" fill="#8c8c8c"/><rect x="189.2" y="1659" width="79.7" height="201.4" fill="#737373"/><rect x="268.2" y="1659" width="79.7" height="201.4" fill="#646464"/><rect x="347.3" y="1659" width="79.7" height="201.4" fill="#585858"/><rect x="426.4" y="1659" width="79.7" height="201.4" fill="#585858"/><rect x="505.5" y="1659" width="79.7" height="201.4" fill="#5f5f5f"/><rect x="584.6" y="1659" width="79.7" height="201.4" fill="#464646"/><rect x="663.7" y="1659" width="79.7" height="201.4" fill="#414141"/><rect x="742.8" y="1659" width="79.7" height="201.4" fill="#585858"/><rect x="821.8" y="1659" width="79.7" height="201.4" fill="#696969"/><rect x="900.9" y="1659" width="79.7" height="201.4" fill="#696969"/><rect x="980" y="1659" width="199.7" height="201.4" fill="#696969"/><ellipse cx="127" cy="1430" rx="55" ry="55" fill="#373737"/><ellipse cx="378" cy="1495" rx="90" ry="58" fill="#282828"/><ellipse cx="657" cy="1500" rx="75" ry="62" fill="#2d2d2d"/><ellipse cx="585" cy="1346" rx="48" ry="48" fill="#323232"/><ellipse cx="936" cy="1452" rx="55" ry="55" fill="#2d2d2d"/><ellipse cx="753" cy="1611" rx="55" ry="50" fill="#282828"/><ellipse cx="368" cy="1264" rx="22" ry="22" fill="#323232"/><ellipse cx="308" cy="1200" rx="38" ry="38" fill="#464646"/><ellipse cx="382" cy="1248" rx="14" ry="14" fill="#1e1e1e"/><ellipse cx="695" cy="1044" rx="36" ry="36" fill="#464646"/><ellipse cx="739" cy="933" rx="52" ry="52" fill="#5f5f5f"/><ellipse cx="281" cy="1351" rx="65" ry="42" fill="#afafaf"/><ellipse cx="512" cy="1418" rx="72" ry="46" fill="#9b9b9b"/><ellipse cx="609" cy="1274" rx="42" ry="42" fill="#a0a0a0"/></g></g>
</g>
<g stroke="#3a0000" stroke-width="2.2" fill="#ff0000">
<rect x="492" y="1048" width="49" height="91.5"/>
<rect x="551" y="884" width="49" height="255.5"/>
<rect x="608" y="1010.5" width="51" height="129"/>
<rect x="667" y="1075" width="47" height="64.5"/>
<rect x="725" y="1120.5" width="48" height="19"/>
<rect x="784" y="1135.5" width="48" height="4"/>
<rect x="843" y="1136" width="47" height="3.5"/>
<rect x="899" y="1136" width="47" height="3.5"/>
</g>
<g fill="#fff" font-size="38" text-anchor="middle">
<text x="484" y="1179.5">2</text>
<text x="544.5" y="1179.5">4</text>
<text x="602" y="1179.5">6</text>
<text x="659" y="1179.5">8</text>
<text x="718" y="1179.5">10</text>
<text x="777" y="1179.5">12</text>
<text x="834.7" y="1179.5">14</text>
<text x="892" y="1179.5">16</text>
<text x="951.7" y="1179.5">18</text>
</g>
<text x="630" y="1234" fill="#fff" font-size="36" textLength="182" lengthAdjust="spacingAndGlyphs">Size (nm)</text>
<text transform="translate(74.1 937) scale(0.977 1)" fill="#000" font-size="103.5" style="font-family:'DejaVu Sans',sans-serif">c</text>
<text x="384" y="1582.5" fill="#fff" font-size="42" font-weight="bold" style="font-family:'Liberation Serif',serif" textLength="139" lengthAdjust="spacingAndGlyphs">100 nm</text>
<rect x="383" y="1605" width="157.5" height="8" fill="#fff"/>
<g fill="#1c1c1c">
<rect x="146" y="60" width="793" height="4.6"/>
<rect x="146" y="668" width="793" height="5.4"/>
<rect x="146" y="60" width="5" height="623"/>
<rect x="934" y="60" width="5" height="613"/>
<rect x="146.3" y="673" width="3.4" height="10"/>
<rect x="195.6" y="673" width="3.4" height="5"/>
<rect x="244.9" y="673" width="3.4" height="10"/>
<rect x="294.2" y="673" width="3.4" height="5"/>
<rect x="343.5" y="673" width="3.4" height="10"/>
<rect x="392.8" y="673" width="3.4" height="5"/>
<rect x="442.1" y="673" width="3.4" height="10"/>
<rect x="491.4" y="673" width="3.4" height="5"/>
<rect x="540.7" y="673" width="3.4" height="10"/>
<rect x="590" y="673" width="3.4" height="5"/>
<rect x="639.3" y="673" width="3.4" height="10"/>
<rect x="688.6" y="673" width="3.4" height="5"/>
<rect x="737.9" y="673" width="3.4" height="10"/>
<rect x="787.2" y="673" width="3.4" height="5"/>
<rect x="836.5" y="673" width="3.4" height="10"/>
<rect x="885.8" y="673" width="3.4" height="5"/>
<rect x="935.1" y="673" width="3.4" height="10"/>
</g>
<g fill="#262626" font-size="42" text-anchor="middle">
<text x="148" y="722.5">10</text>
<text x="246.6" y="722.5">20</text>
<text x="345.2" y="722.5">30</text>
<text x="443.8" y="722.5">40</text>
<text x="542.4" y="722.5">50</text>
<text x="641" y="722.5">60</text>
<text x="739.6" y="722.5">70</text>
<text x="838.2" y="722.5">80</text>
<text x="936.8" y="722.5">90</text>
</g>
<text x="438" y="793.5" fill="#1a1a1a" font-size="45" font-weight="bold" textLength="230" lengthAdjust="spacingAndGlyphs">2θ /degree</text>
<text transform="translate(96 497) rotate(-90)" fill="#1a1a1a" font-size="48" font-weight="bold" textLength="310" lengthAdjust="spacingAndGlyphs">Intensity /a.u.</text>
<text transform="translate(52.3 147) scale(0.973 1)" fill="#000" font-size="98.2" style="font-family:'DejaVu Sans',sans-serif">a</text>
<text x="746" y="123.8" fill="#1a1a1a" font-size="34" font-weight="bold" textLength="166" lengthAdjust="spacingAndGlyphs">Ni/SiO<tspan font-size="17">2</tspan>-2/1</text>
<text x="742" y="222.7" fill="#1a1a1a" font-size="34" font-weight="bold" textLength="169" lengthAdjust="spacingAndGlyphs">Ni/SiO<tspan font-size="17">2</tspan>-2/0</text>
<text x="745" y="362.2" fill="#1a1a1a" font-size="34" font-weight="bold" textLength="167" lengthAdjust="spacingAndGlyphs">Ni/SiO<tspan font-size="17">2</tspan>-0/1</text>
<text x="742" y="515" fill="#1a1a1a" font-size="34" font-weight="bold" textLength="170" lengthAdjust="spacingAndGlyphs">Ni/SiO<tspan font-size="17">2</tspan>-0/0</text>
<text x="645" y="614.7" fill="#1a1a1a" font-size="34" font-weight="bold" textLength="268" lengthAdjust="spacingAndGlyphs">Ni JCPDS 1-1260</text>
<path d="M151 132.1 L153 132 L155 132.8 L157 132.3 L159 133.1 L161 133 L163 132.9 L165 133.6 L167 133.2 L169 133.8 L171 133.6 L173 133.8 L175 134.4 L177 135.1 L179 134.5 L181 134.9 L183 135.6 L185 136.2 L187 135.9 L189 135.8 L191 136.6 L193 135.5 L195 136.4 L197 135.5 L199 134.9 L201 134.2 L203 133.2 L205 132.6 L207 130.6 L209 129.9 L211 128.7 L213 127.2 L215 126.1 L217 124.2 L219 122.9 L221 121.7 L223 120.9 L225 119.2 L227 117.7 L229 116.6 L231 114.9 L233 113.2 L235 112.2 L237 110.5 L239 108.2 L241 106.9 L243 105.2 L245 103.9 L247 102 L249 99.8 L251 99 L253 96.4 L255 95.6 L257 94.8 L259 93.2 L261 93.5 L263 93.1 L265 94 L267 94.7 L269 95.2 L271 96.5 L273 96.9 L275 98.5 L277 99.7 L279 101.1 L281 102.3 L283 104.1 L285 105.5 L287 106.2 L289 107.7 L291 108.3 L293 110.3 L295 111.5 L297 113.2 L299 114.3 L301 114.9 L303 116.2 L305 117.7 L307 118 L309 119.5 L311 120.1 L313 121 L315 121.7 L317 123.4 L319 123.3 L321 124.2 L323 125 L325 126.3 L327 125.9 L329 127 L331 127.7 L333 128.7 L335 129.2 L337 129.8 L339 129.6 L341 130.4 L343 130.8 L345 132 L347 132.7 L349 132.4 L351 133 L353 133.6 L355 134 L357 134.5 L359 134.9 L361 134.6 L363 134.4 L365 134.9 L367 134.8 L369 135 L371 135.4 L373 134.9 L375 134.6 L377 134.6 L379 134.5 L381 133.6 L383 134.4 L385 134.1 L387 134.1 L389 133.9 L391 133.2 L393 133.1 L395 132.6 L397 133.2 L399 132.4 L401 132.4 L403 132.6 L405 132.7 L407 133.2 L409 133.1 L411 133.5 L413 134.2 L415 134.8 L417 135.8 L419 136.1 L421 137.7 L423 137.9 L425 137.8 L427 138.3 L429 138.8 L431 139.2 L433 139.2 L435 140.4 L437 140.7 L439 140.1 L441 140.2 L443 139.6 L445 139.4 L447 139.4 L449 138.9 L451 139.1 L453 137.8 L455 137.1 L457 137.7 L459 136.6 L461 135.6 L463 135.5 L465 134.4 L467 134.5 L469 134.5 L471 134 L473 133.4 L475 132.7 L477 132.8 L479 132.6 L481 133.6 L483 133.8 L485 134.8 L487 135 L489 135.7 L491 137.2 L493 138.5 L495 139.4 L497 140.5 L499 141.4 L501 142.1 L503 142.1 L505 143 L507 143.2 L509 143.2 L511 143.5 L513 144.1 L515 144.3 L517 145.1 L519 145.6 L521 145.2 L523 146 L525 146.3 L527 146.4 L529 145.9 L531 145.9 L533 146.1 L535 146.2 L537 146.4 L539 147.1 L541 147.6 L543 147.7 L545 147.4 L547 147.8 L549 148.2 L551 147.5 L553 148.4 L555 148.8 L557 148.9 L559 149 L561 148.8 L563 148.6 L565 149.4 L567 148.9 L569 149.6 L571 149.9 L573 149.2 L575 149.3 L577 149.9 L579 149.7 L581 149 L583 148.9 L585 148.9 L587 149.8 L589 149.6 L591 148.7 L593 149.5 L595 149.5 L597 149.1 L599 148.6 L601 148.7 L603 148.1 L605 147.8 L607 148.8 L609 148.3 L611 148.1 L613 148.4 L615 147.7 L617 148.1 L619 147.9 L621 147 L623 147 L625 146.9 L627 146.7 L629 147 L631 146.5 L633 146.6 L635 146.2 L637 147 L639 146.2 L641 146.3 L643 146.4 L645 146.7 L647 146.1 L649 146.7 L651 146.2 L653 146.2 L655 146.2 L657 145.7 L659 146.3 L661 146.2 L663 146.1 L665 147.3 L667 146.9 L669 147.6 L671 148.3 L673 148.5 L675 148.7 L677 149.4 L679 149.9 L681 150.6 L683 150.2 L685 151.1 L687 151.1 L689 151.4 L691 152.3 L693 152.2 L695 152.5 L697 152.9 L699 153.3 L701 152.9 L703 153.2 L705 153.2 L707 153.4 L709 153.8 L711 153.6 L713 153.8 L715 153.9 L717 154.6 L719 154.4 L721 154.8 L723 155 L725 154.2 L727 154.7 L729 155.3 L731 155.3 L733 154.6 L735 154.7 L737 155.1 L739 154.8 L741 155.1 L743 155 L745 155.9 L747 156.1 L749 156.4 L751 155.6 L753 156.4 L755 156.4 L757 155.9 L759 156.9 L761 157.1 L763 156.3 L765 157.3 L767 156.8 L769 157 L771 157.8 L773 157.7 L775 157 L777 157.5 L779 157.7 L781 157.6 L783 157.6 L785 157.9 L787 158.5 L789 157.8 L791 158.6 L793 158.6 L795 158.3 L797 158.8 L799 159.3 L801 159.3 L803 159 L805 160.2 L807 160.1 L809 160.5 L811 159.6 L813 160 L815 159.9 L817 160.9 L819 160.5 L821 160.5 L823 161 L825 161.7 L827 161.8 L829 161.2 L831 161.3 L833 162.4 L835 162.1 L837 162.4 L839 161.8 L841 161.9 L843 162.8 L845 162.7 L847 162.4 L849 163.6 L851 163.4 L853 163.7 L855 163 L857 164.1 L859 163.2 L861 164.3 L863 164 L865 164 L867 164.3 L869 164.9 L871 164.3 L873 164.2 L875 164.8 L877 164.6 L879 164.5 L881 164.7 L883 164.7 L885 165 L887 165.2 L889 165.3 L891 166 L893 165.5 L895 165.9 L897 165.6 L899 165.9 L901 165.6 L903 166 L905 165.8 L907 166.8 L909 166.7 L911 166.3 L913 166.8 L915 167.4 L917 166.5 L919 167.5 L921 167.1 L923 167.3 L925 167.8 L927 167.4 L929 167.6 L931 167.9 L933 168.4 L935 167.7" fill="none" stroke="#d22232" stroke-width="4.6" stroke-linejoin="round" stroke-linecap="butt"/>
<path d="M151 234 L153 234.1 L155 234.2 L157 234.1 L159 234.2 L161 234 L163 234.3 L165 234.4 L167 235.4 L169 235 L171 235 L173 235.1 L175 236.1 L177 236.3 L179 236.2 L181 235.9 L183 235.9 L185 236.1 L187 236.3 L189 236 L191 236.3 L193 236 L195 236.8 L197 236.6 L199 235.9 L201 235.2 L203 235.6 L205 234.2 L207 233.5 L209 232.3 L211 231.9 L213 230.9 L215 229.8 L217 228.1 L219 227.1 L221 225 L223 223.8 L225 222 L227 220.8 L229 218.9 L231 217.4 L233 216.3 L235 214.8 L237 213.8 L239 212.3 L241 211.1 L243 209.5 L245 208.1 L247 206.9 L249 204.9 L251 203.4 L253 202.9 L255 200.5 L257 199.9 L259 198.4 L261 196.5 L263 196.6 L265 196.5 L267 196.4 L269 197.1 L271 198 L273 198.3 L275 199.9 L277 201.1 L279 202.6 L281 203.8 L283 205 L285 205.9 L287 207.5 L289 208.6 L291 209.9 L293 210.6 L295 211.6 L297 212.9 L299 214.3 L301 215 L303 216.9 L305 217.5 L307 218.4 L309 219.3 L311 220.2 L313 220.8 L315 221.1 L317 222.8 L319 223.5 L321 224 L323 224.8 L325 225.6 L327 225.6 L329 227.1 L331 227.2 L333 227.6 L335 228.5 L337 229.6 L339 229.6 L341 230.9 L343 231.7 L345 231.7 L347 232.1 L349 232.7 L351 233.3 L353 233.9 L355 234 L357 234.4 L359 234 L361 234.3 L363 234.7 L365 235.4 L367 235 L369 235.4 L371 234.8 L373 234.8 L375 235 L377 235.4 L379 235.4 L381 235.3 L383 234.8 L385 235 L387 234.8 L389 234.8 L391 234.3 L393 235.2 L395 234.3 L397 235.3 L399 235.3 L401 234.3 L403 234.9 L405 235.5 L407 235.9 L409 235.6 L411 235.7 L413 235.9 L415 237.2 L417 236.7 L419 237.5 L421 237.4 L423 238.3 L425 239.2 L427 238.6 L429 239.9 L431 239.9 L433 240.7 L435 240.8 L437 240.5 L439 241.6 L441 241.3 L443 240.9 L445 240.9 L447 241.4 L449 241.2 L451 240.8 L453 240.2 L455 240.1 L457 239.6 L459 239.7 L461 238.1 L463 238.3 L465 237.8 L467 236.3 L469 236.7 L471 235.8 L473 235.4 L473.5 234.4 L474 234.4 L474.5 234.2 L475 234.7 L475.5 233.9 L476 233.4 L476.5 233.2 L477 232.8 L477.5 232.3 L478 232.1 L478.5 232.7 L479 231.8 L479.5 232.4 L480 231.3 L480.5 231 L481 231 L481.5 230.4 L482 230.3 L482.5 230.6 L483 229.9 L483.5 228.9 L484 227.4 L484.5 226.2 L485 224.7 L485.5 223.6 L486 224.7 L486.5 225.8 L487 228.5 L487.5 229.7 L488 231.2 L488.5 232 L489 232.2 L489.5 232.5 L490 234.1 L490.5 233.6 L491 234.4 L491.5 234.7 L492 235.1 L492.5 236 L493 236.6 L493.5 236.2 L494 237 L494.5 236.9 L495 237.6 L495.5 237.8 L496 237.9 L496.5 238.2 L497 238.6 L497.5 239.8 L498 239.6 L498.5 239.6 L499 240.8 L499.5 241.2 L501.5 241.3 L503.5 241.5 L505.5 242.1 L507.5 242.2 L509.5 242.8 L511.5 242.7 L513.5 243.1 L515.5 243.3 L517.5 243.9 L519.5 244.4 L521.5 244.5 L523.5 244.2 L525.5 244.4 L527.5 244.7 L529.5 244.7 L531.5 244.8 L533.5 244.6 L535.5 245 L537.5 246 L539.5 245 L541.5 245.5 L543.5 245.6 L545.5 245.7 L547.5 244.8 L549.5 244.5 L551.5 244.2 L553.5 244.1 L555.5 244 L557.5 244.5 L559.5 244.4 L561.5 244.5 L563.5 243.7 L565.5 244.1 L567.5 245.3 L569.5 246.1 L571.5 246.1 L573.5 246.7 L575.5 246.5 L577.5 247.4 L579.5 248.4 L581.5 248.6 L583.5 248.9 L585.5 249.2 L587.5 248.5 L589.5 248.4 L591.5 248.6 L593.5 249 L595.5 249.2 L597.5 249.4 L599.5 249.1 L601.5 248.9 L603.5 248.9 L605.5 248.4 L607.5 248.3 L609.5 247.5 L611.5 248.3 L613.5 247.4 L615.5 248.1 L617.5 247.6 L619.5 247 L621.5 246.6 L623.5 246.5 L625.5 246.8 L627.5 246.7 L629.5 245.8 L631.5 245.6 L633.5 246 L635.5 245.9 L637.5 245.5 L639.5 245.2 L641.5 245.5 L643.5 244.7 L645.5 244.9 L647.5 245 L649.5 245.6 L651.5 245.2 L653.5 245.4 L655.5 244.9 L657.5 244.7 L659.5 244.7 L661.5 245.7 L663.5 245.5 L665.5 245.1 L667.5 245 L669.5 245.8 L671.5 246.2 L673.5 246.2 L675.5 246.3 L677.5 247.1 L679.5 247.7 L681.5 247.2 L683.5 247.4 L685.5 248.1 L687.5 248.6 L689.5 249.3 L691.5 249 L693.5 250.1 L695.5 250.4 L697.5 250.5 L699.5 250.5 L701.5 251.7 L703.5 251.2 L705.5 252.1 L707.5 251.7 L709.5 251.9 L711.5 252.8 L713.5 252.4 L715.5 253.4 L717.5 253 L719.5 252.8 L721.5 253 L723.5 253.3 L725.5 253.7 L727.5 254.2 L729.5 253.3 L731.5 253.7 L733.5 253.6 L735.5 254.6 L737.5 253.6 L739.5 253.6 L741.5 253.6 L743.5 254.1 L745.5 254.8 L747.5 254.8 L749.5 254.7 L751.5 255 L753.5 255 L755.5 254.3 L757.5 254.2 L759.5 255.1 L761.5 255 L763.5 254.1 L765.5 254.9 L767.5 254.6 L769.5 254.7 L771.5 254.7 L773.5 254.5 L775.5 254.4 L777.5 254.8 L779.5 254.9 L781.5 255.7 L783.5 254.8 L785.5 255.8 L787.5 255 L789.5 255.3 L791.5 255.9 L793.5 256 L795.5 255.7 L797.5 255.3 L799.5 255.9 L801.5 256 L803.5 256.8 L805.5 256 L807.5 256.4 L809.5 257.2 L811.5 256.4 L813.5 257 L815.5 257.7 L817.5 257.9 L819.5 257.2 L821.5 257.5 L823.5 257.7 L825.5 259 L827.5 258.5 L829.5 259.3 L831.5 259.7 L833.5 259.3 L835.5 259.5 L837.5 260.6 L839.5 260.4 L841.5 260.2 L843.5 261 L845.5 260.8 L847.5 261 L849.5 260.8 L851.5 262 L853.5 262.3 L855.5 262.2 L857.5 262.7 L859.5 261.8 L861.5 262.2 L863.5 262.6 L865.5 263.4 L867.5 263.5 L869.5 262.9 L871.5 262.9 L873.5 263.2 L875.5 263.4 L877.5 264 L879.5 263.2 L881.5 264 L883.5 264 L885.5 264.2 L887.5 264.3 L889.5 264.1 L891.5 263.9 L893.5 264 L895.5 264.1 L897.5 264.7 L899.5 263.9 L901.5 264.1 L903.5 264.9 L905.5 264.3 L907.5 264.2 L909.5 264.2 L911.5 264.9 L913.5 264.7 L915.5 265.5 L917.5 265.5 L919.5 265.7 L921.5 264.9 L923.5 264.7 L925.5 264.8 L927.5 265.4 L929.5 265.7 L931.5 265.4 L933.5 265.2 L935.5 265.5" fill="none" stroke="#1e12a0" stroke-width="4.6" stroke-linejoin="round" stroke-linecap="butt"/>
<path d="M151 376.9 L153 376.3 L155 375.7 L157 375.2 L159 374.4 L161 373.2 L163 373.5 L165 372.3 L167 372.2 L169 371.6 L171 371.8 L173 371 L175 371 L177 371 L179 370.9 L181 371.9 L183 371.6 L185 371.4 L187 371.5 L189 372.2 L191 371.5 L193 371 L195 371.4 L197 370.8 L199 370.5 L201 368.7 L203 368.3 L205 367.8 L207 366.8 L209 365.7 L211 363.5 L213 362.5 L215 361 L217 359.8 L219 359.4 L221 357.6 L223 356.6 L225 354.5 L227 353.5 L229 351.4 L231 349.5 L233 348.4 L235 347 L237 344.3 L239 343.4 L241 341.9 L243 340.1 L245 339.1 L247 337.8 L249 336.8 L251 336 L253 335.6 L255 335 L257 333.9 L259 333.3 L261 333.5 L263 333.9 L265 333.5 L267 334.2 L269 334.7 L271 336.5 L273 337.4 L275 338.3 L277 339.9 L279 341.8 L281 343.5 L283 345.1 L285 345.8 L287 347.2 L289 349.2 L291 350.2 L293 351.5 L295 352.9 L297 355 L299 355.6 L301 357.3 L303 358.3 L305 359.6 L307 361.2 L309 362.5 L311 362.7 L313 363.4 L315 364.9 L317 365 L319 365.4 L321 367.1 L323 367.1 L325 368.1 L327 368.1 L329 369.1 L331 369.1 L333 369.1 L335 369.4 L337 370.4 L339 371 L341 371.7 L343 371.1 L345 372.2 L347 372.3 L349 372.9 L351 372.9 L353 373.4 L355 374.1 L357 375 L359 374.4 L361 375.2 L363 375.9 L365 376.5 L367 375.9 L369 376.1 L371 377.4 L373 377.8 L375 377.5 L377 377.3 L379 378.6 L381 378.2 L383 379.1 L385 379.1 L387 379.6 L389 379 L391 380 L393 379.6 L395 380.1 L397 380.8 L399 381 L401 380.5 L403 380.8 L405 381.2 L407 381.6 L409 381.6 L411 381.5 L413 381.8 L415 382.6 L417 383 L419 382.1 L421 382.9 L423 383.3 L425 382.6 L427 383.7 L429 382.9 L431 383.6 L433 383.6 L435 383.8 L437 383.5 L439 383.6 L441 383.8 L443 383.5 L445 383.7 L447 383.4 L449 383.2 L451 382.6 L453 383.2 L455 382.8 L457 382.3 L459 382.7 L461 382.5 L463 381.9 L465 381.3 L467 381.4 L469 380.6 L471 380.2 L473 380 L473.5 379.4 L474 379.6 L474.5 379.5 L475 378.7 L475.5 379.2 L476 378.2 L476.5 378.6 L477 378.3 L477.5 377.5 L478 376.4 L478.5 376.3 L479 375.4 L479.5 375.2 L480 373.1 L480.5 372.5 L481 371 L481.5 368.5 L482 365.8 L482.5 361.4 L483 357.6 L483.5 350.6 L484 342.5 L484.5 330.9 L485 315.1 L485.5 298.3 L486 281.8 L486.5 271.9 L487 276.4 L487.5 291.5 L488 308.9 L488.5 326.2 L489 338.5 L489.5 349.1 L490 355.7 L490.5 361.7 L491 366.4 L491.5 368.8 L492 371.4 L492.5 373.8 L493 375.2 L493.5 376.2 L494 377.5 L494.5 378.4 L495 380.1 L495.5 380.5 L496 381.3 L496.5 380.9 L497 382.1 L497.5 381.7 L498 382.5 L498.5 382.9 L499 382.9 L499.5 383.7 L500 383.6 L500.5 383.8 L501 384.3 L503 383.9 L505 385.3 L507 385.1 L509 384.9 L511 385.5 L513 385 L515 385.9 L517 385.4 L519 385.1 L521 385.6 L523 385.1 L525 384.8 L527 385.4 L529 384.5 L531 385.3 L533 384.6 L535 384.9 L537 385.2 L539 384.6 L541 384.5 L543 383.8 L545 383.1 L545.5 383 L546 383 L546.5 383.5 L547 383.1 L547.5 383.1 L548 383.4 L548.5 382.2 L549 382.1 L549.5 382.4 L550 381.3 L550.5 381 L551 381 L551.5 380.3 L552 380 L552.5 379.2 L553 378.8 L553.5 377.8 L554 376.2 L554.5 375.2 L555 373.1 L555.5 370.3 L556 368.3 L556.5 363.9 L557 359.5 L557.5 354.9 L558 351.4 L558.5 349 L559 348.6 L559.5 350.4 L560 354.3 L560.5 358.6 L561 363.8 L561.5 367.5 L562 370.3 L562.5 373.2 L563 375 L563.5 377.3 L564 378.3 L564.5 378.9 L565 380.5 L565.5 380.3 L566 381.5 L566.5 381.9 L567 382.2 L567.5 382.4 L568 383.7 L568.5 383.1 L569 384.1 L569.5 384.9 L570 384.3 L570.5 384.8 L571 385.6 L571.5 385.8 L572 386.2 L572.5 386.7 L573 386.1 L575 387 L577 387.4 L579 387.5 L581 388.8 L583 388.9 L585 389.1 L587 388.4 L589 389.6 L591 389.7 L593 389.5 L595 390 L597 389.8 L599 389.7 L601 389.7 L603 390 L605 389.9 L607 390.4 L609 391 L611 391 L613 391.4 L615 391.3 L617 390.9 L619 391.4 L621 391.3 L623 391.9 L625 391.7 L627 391.5 L629 392.1 L631 392.6 L633 391.8 L635 392.7 L637 391.8 L639 392.2 L641 392.3 L643 393 L645 393.3 L647 393.2 L649 392.8 L651 393.6 L653 393.1 L655 393.1 L657 394 L659 393.7 L661 393.9 L663 394 L665 394.5 L667 394 L669 394.5 L671 394.5 L673 394.8 L675 394.4 L677 394.8 L679 394.7 L681 394.5 L683 394.5 L685 395.1 L687 394.6 L689 395.7 L691 394.8 L693 394.8 L695 395 L697 396.1 L699 395.5 L701 395.3 L703 395.3 L705 395.4 L707 396.2 L709 396.3 L711 396.4 L713 396.6 L715 395.9 L717 396.6 L719 396.4 L721 397 L723 397.1 L725 397.3 L727 396.4 L729 397.4 L731 397.6 L733 397.7 L735 396.7 L737 396.9 L739 396.9 L741 396.9 L743 397.9 L745 398 L747 397.8 L749 398.1 L751 398 L753 397.7 L755 397.5 L757 397.6 L759 398.4 L761 397.8 L763 398.1 L765 398.2 L767 397.8 L769 398.2 L771 398.3 L773 398.9 L775 398.5 L777 398.5 L779 399.3 L781 398.8 L783 399.3 L785 399 L787 398.3 L789 398.6 L789.5 398.6 L790 399 L790.5 398.5 L791 398.8 L791.5 398.6 L792 398.1 L792.5 398.8 L793 397.8 L793.5 398.5 L794 397.6 L794.5 397.2 L795 397.2 L795.5 397.7 L796 397.6 L796.5 396 L797 396.1 L797.5 395.5 L798 395.2 L798.5 393.6 L799 392.9 L799.5 391.6 L800 391 L800.5 389.4 L801 389.6 L801.5 388.8 L802 389.2 L802.5 390.8 L803 391.8 L803.5 392.6 L804 394.4 L804.5 394.7 L805 396.4 L805.5 396.9 L806 397.6 L806.5 397.9 L807 398 L807.5 398.4 L808 398.7 L808.5 399.5 L809 398.8 L809.5 399.9 L810 399.1 L810.5 399.4 L811 399.6 L811.5 400.5 L812 400.2 L812.5 400.1 L813 400.8 L813.5 400.1 L814 400.5 L814.5 400.7 L815 401 L815.5 401.1 L817.5 401.2 L819.5 401.1 L821.5 401.3 L823.5 401.3 L825.5 402.3 L827.5 402.3 L829.5 402.5 L831.5 402 L833.5 402.5 L835.5 403.1 L837.5 403 L839.5 402.6 L841.5 403.2 L843.5 403.9 L845.5 403.2 L847.5 403.3 L849.5 403.6 L851.5 404.2 L853.5 404.6 L855.5 403.9 L857.5 404 L859.5 404.3 L861.5 404.5 L863.5 404.9 L865.5 404.6 L867.5 404.9 L869.5 404.8 L871.5 405.9 L873.5 405.7 L875.5 405.1 L877.5 406.2 L879.5 405.3 L881.5 405.8 L883.5 406.6 L885.5 406.5 L887.5 406.5 L889.5 406.3 L891.5 406.1 L893.5 406.8 L895.5 406.2 L897.5 406.5 L899.5 406.8 L901.5 406.5 L903.5 407 L905.5 407.6 L907.5 407.6 L909.5 407.5 L911.5 407.8 L913.5 407.7 L915.5 407.4 L917.5 408.1 L919.5 407.9 L921.5 408.4 L923.5 408.7 L925.5 408.3 L927.5 408.6 L929.5 408.9 L931.5 408.6 L933.5 408.5 L935.5 409.2" fill="none" stroke="#7420c4" stroke-width="4.2" stroke-linejoin="round" stroke-linecap="butt"/>
<path d="M151 526.4 L153 526.5 L155 526.6 L157 527 L159 527 L161 527.2 L163 527.1 L165 527.2 L167 527.7 L169 527.3 L171 527.9 L173 528.5 L175 528.5 L177 528.6 L179 528.3 L181 528.6 L183 528.7 L185 529 L187 528.8 L189 529.1 L191 529.3 L193 528.2 L195 528.5 L197 528.3 L199 527.5 L201 526.9 L203 526.7 L205 524.6 L207 524.1 L209 522.4 L211 522 L213 521 L215 519.1 L217 517.2 L219 516.3 L221 514.6 L223 513.3 L225 511.4 L227 509.9 L229 508.6 L231 506.6 L233 505 L235 504.1 L237 501.8 L239 501 L241 499.2 L243 498.2 L245 496 L247 495.6 L249 493.5 L251 491.8 L253 490.7 L255 489.5 L257 487.8 L259 487.2 L261 486.2 L263 485.7 L265 484.6 L267 484.8 L269 485.9 L271 487.8 L273 489.2 L275 489.9 L277 490.8 L279 492.8 L281 493.7 L283 494.8 L285 496.1 L287 498.2 L289 499.6 L291 500.8 L293 501.9 L295 503.3 L297 504.2 L299 506.3 L301 506.7 L303 508.2 L305 509.5 L307 510.7 L309 511.4 L311 512.3 L313 513.7 L315 514.2 L317 516 L319 516.4 L321 517.9 L323 518 L325 519 L327 519.5 L329 520.4 L331 520.8 L333 521.2 L335 522.6 L337 522.7 L339 523.1 L341 523.7 L343 524.4 L345 524.9 L347 525.6 L349 526.1 L351 526.1 L353 527.2 L355 527.6 L357 527 L359 528.3 L361 528.8 L363 529 L365 528.6 L367 529.7 L369 529.8 L371 529.4 L373 529.7 L375 531.1 L377 531.1 L379 530.9 L381 531 L383 531.3 L385 531.6 L387 532.5 L389 532.2 L391 532.2 L393 533.3 L395 533.4 L397 532.8 L399 533.8 L401 533.7 L403 534 L405 534 L407 534.5 L409 534.5 L411 534.7 L413 534 L415 534.8 L417 534.7 L419 535 L421 534.8 L423 535.4 L425 535.1 L427 534.9 L429 534.9 L431 534.9 L433 535.4 L435 534.9 L437 535.4 L439 535.1 L441 535.5 L443 535.6 L445 535.6 L447 536 L449 534.9 L451 535.8 L453 535.2 L455 535.1 L457 535 L459 534.9 L461 533.9 L463 533.6 L465 533.8 L467 532.2 L469 532.3 L471 531.7 L473 530.2 L473.5 530.6 L474 530.5 L474.5 530.5 L475 529.5 L475.5 529.9 L476 529 L476.5 528.5 L477 528.5 L477.5 526.9 L478 527 L478.5 526.1 L479 524.8 L479.5 524.3 L480 522.4 L480.5 520.8 L481 518.8 L481.5 516.5 L482 512.5 L482.5 508.5 L483 502.8 L483.5 495.4 L484 485.6 L484.5 471.4 L485 454.5 L485.5 433.3 L486 413.9 L486.5 403.2 L487 408.2 L487.5 425.9 L488 446.5 L488.5 465.8 L489 480.5 L489.5 492 L490 500.5 L490.5 507.3 L491 512.3 L491.5 516.2 L492 518.3 L492.5 521.4 L493 523.5 L493.5 524.6 L494 525.3 L494.5 526.6 L495 527.1 L495.5 528.1 L496 529.6 L496.5 529.8 L497 530.4 L497.5 530.9 L498 531.4 L498.5 531.4 L499 531.7 L499.5 532 L500 532.3 L500.5 532.4 L501 532.7 L503 532.7 L505 533.6 L507 533.6 L509 534.2 L511 533.5 L513 533.7 L515 533.6 L517 534.5 L519 534.7 L521 534.4 L523 534 L525 534.6 L527 534.5 L529 534.2 L531 533.8 L533 533.7 L535 533.8 L537 533.6 L539 533.5 L541 533.6 L543 533.7 L545 532.3 L545.5 532.8 L546 532 L546.5 532 L547 532.6 L547.5 532.2 L548 532.4 L548.5 531.6 L549 530.8 L549.5 531 L550 530.9 L550.5 530.9 L551 530.5 L551.5 529.3 L552 528.5 L552.5 527.4 L553 527.1 L553.5 525.3 L554 523.8 L554.5 521.8 L555 519.5 L555.5 517.4 L556 513.2 L556.5 509.8 L557 503.6 L557.5 499 L558 493 L558.5 489.6 L559 490.1 L559.5 492.3 L560 497.8 L560.5 502.8 L561 507.9 L561.5 513.4 L562 517.2 L562.5 520.4 L563 522.7 L563.5 523.9 L564 526.2 L564.5 527.6 L565 528.4 L565.5 529.8 L566 529.8 L566.5 531.3 L567 531.5 L567.5 531.2 L568 531.6 L568.5 532.8 L569 533.4 L569.5 532.8 L570 533.5 L570.5 534.4 L571 534.1 L571.5 535.2 L572 535 L572.5 534.7 L573 535.2 L575 536.1 L577 536.4 L579 537 L581 536.6 L583 537.6 L585 537.3 L587 537.8 L589 537.9 L591 537.7 L593 537.8 L595 538.4 L597 538.7 L599 538.5 L601 538.4 L603 538.1 L605 537.9 L607 539.1 L609 538.8 L611 539 L613 538.5 L615 538.9 L617 539.4 L619 539.3 L621 539 L623 538.8 L625 539 L627 539.6 L629 539 L631 539.4 L633 539.4 L635 539.8 L637 539.8 L639 539.2 L641 538.9 L643 539.3 L645 539.5 L647 539.8 L649 540.1 L651 540.3 L653 539.3 L655 540.4 L657 540.4 L659 540.5 L661 540.2 L663 540 L665 540.7 L667 540.7 L669 540.7 L671 541 L673 540.4 L675 540.2 L677 540.8 L679 541.2 L681 540.5 L683 541.3 L685 541.5 L687 540.8 L689 541.3 L691 541.5 L693 541.3 L695 541 L697 541.2 L699 541.8 L701 542 L703 541.6 L705 541.3 L707 542.2 L709 542.2 L711 541.7 L713 542.2 L715 542.6 L717 542.7 L719 542.3 L721 542.3 L723 542.5 L725 542.1 L727 542.2 L729 542.3 L731 543 L733 542.6 L735 542.9 L737 542.8 L739 543 L741 542.6 L743 542.6 L745 543.8 L747 543.1 L749 542.9 L751 543.6 L753 543.8 L755 543.1 L757 543.7 L759 543.5 L761 543.7 L763 543.2 L765 543.2 L767 544.5 L769 544.4 L771 544 L773 544.1 L775 543.8 L777 544.4 L779 544.1 L781 544.7 L783 544.5 L785 544.6 L787 544.7 L789 543.8 L789.5 543.5 L790 543.7 L790.5 543.6 L791 543.5 L791.5 543.4 L792 543.9 L792.5 544.2 L793 543.6 L793.5 544.1 L794 543.9 L794.5 542.7 L795 543.2 L795.5 542.7 L796 542 L796.5 542.7 L797 541.3 L797.5 541.1 L798 540.5 L798.5 540 L799 538.7 L799.5 537.2 L800 536.2 L800.5 535 L801 535.5 L801.5 535.6 L802 535.3 L802.5 536.2 L803 537.8 L803.5 539.1 L804 540.9 L804.5 541.9 L805 542.6 L805.5 542.4 L806 543.9 L806.5 544.3 L807 544.6 L807.5 545.4 L808 544.6 L808.5 544.9 L809 545.9 L809.5 546.3 L810 546.1 L810.5 545.8 L811 546.3 L811.5 546.6 L812 546 L812.5 546.3 L813 546.3 L813.5 546.3 L814 546.8 L814.5 546.5 L815 546.6 L815.5 546.6 L817.5 547.5 L819.5 546.9 L821.5 547.9 L823.5 547.4 L825.5 547.4 L827.5 548.6 L829.5 547.9 L831.5 548.9 L833.5 549 L835.5 549.1 L837.5 548.3 L839.5 548.8 L841.5 548.5 L843.5 549.7 L845.5 549.7 L847.5 549.5 L849.5 549.4 L851.5 549.4 L853.5 550.1 L855.5 549.8 L857.5 550.1 L859.5 549.7 L861.5 549.9 L863.5 549.8 L865.5 550.7 L867.5 550.6 L869.5 550.2 L871.5 551.2 L873.5 550.6 L875.5 550.9 L877.5 550.7 L879.5 551 L881.5 551.8 L883.5 551.3 L885.5 551.2 L887.5 551.7 L889.5 551.6 L891.5 552.4 L893.5 551.5 L895.5 552.7 L897.5 551.7 L899.5 552.8 L901.5 552.7 L903.5 552.2 L905.5 552.6 L907.5 552.5 L909.5 552.6 L911.5 552.6 L913.5 552.9 L915.5 553.8 L917.5 553.9 L919.5 553.9 L921.5 553.1 L923.5 553.4 L925.5 554.2 L927.5 553.3 L929.5 554.3 L931.5 553.8 L933.5 554.8 L935.5 553.7" fill="none" stroke="#111111" stroke-width="4.2" stroke-linejoin="round" stroke-linecap="butt"/>
<rect x="151" y="649" width="783" height="4.4" fill="#f0a45a"/>
<rect x="486.9" y="591.6" width="4.6" height="59.4" fill="#e8922e"/>
<rect x="558.7" y="611" width="4.6" height="40" fill="#e8922e"/>
<rect x="805.7" y="633" width="4.6" height="18" fill="#e8922e"/>
<g fill="#1c1c1c">
<rect x="1109" y="873" width="794" height="5"/>
<rect x="1109" y="1509" width="794" height="5.2"/>
<rect x="1109" y="873" width="5" height="646"/>
<rect x="1898.5" y="873" width="4.6" height="646"/>
<rect x="1111.3" y="1514" width="3.4" height="5"/>
<rect x="1155.1" y="1514" width="3.4" height="10"/>
<rect x="1198.9" y="1514" width="3.4" height="5"/>
<rect x="1242.6" y="1514" width="3.4" height="10"/>
<rect x="1286.4" y="1514" width="3.4" height="5"/>
<rect x="1330.2" y="1514" width="3.4" height="10"/>
<rect x="1374" y="1514" width="3.4" height="5"/>
<rect x="1417.7" y="1514" width="3.4" height="10"/>
<rect x="1461.5" y="1514" width="3.4" height="5"/>
<rect x="1505.3" y="1514" width="3.4" height="10"/>
<rect x="1549.1" y="1514" width="3.4" height="5"/>
<rect x="1592.8" y="1514" width="3.4" height="10"/>
<rect x="1636.6" y="1514" width="3.4" height="5"/>
<rect x="1680.4" y="1514" width="3.4" height="10"/>
<rect x="1724.2" y="1514" width="3.4" height="5"/>
<rect x="1767.9" y="1514" width="3.4" height="10"/>
<rect x="1811.7" y="1514" width="3.4" height="5"/>
<rect x="1855.5" y="1514" width="3.4" height="10"/>
<rect x="1899.3" y="1514" width="3.4" height="5"/>
</g>
<g fill="#333" font-size="32" font-weight="bold" text-anchor="middle">
<text x="1156.8" y="1557.6">100</text>
<text x="1244.3" y="1557.6">200</text>
<text x="1331.9" y="1557.6">300</text>
<text x="1419.4" y="1557.6">400</text>
<text x="1507" y="1557.6">500</text>
<text x="1594.5" y="1557.6">600</text>
<text x="1682.1" y="1557.6">700</text>
<text x="1769.6" y="1557.6">800</text>
<text x="1857.2" y="1557.6">900</text>
</g>
<text y="1621.5" fill="#1a1a1a" font-size="44" font-weight="bold"><tspan x="1328" textLength="101" lengthAdjust="spacingAndGlyphs">Tem</tspan><tspan x="1434" textLength="170" lengthAdjust="spacingAndGlyphs">perature</tspan> <tspan x="1617" textLength="63" lengthAdjust="spacingAndGlyphs">/°C</tspan></text>
<text transform="translate(1065 1349) rotate(-90)" fill="#1a1a1a" font-size="47" textLength="312" lengthAdjust="spacingAndGlyphs">Intensity /a.u.</text>
<text transform="translate(1015.2 950.1) scale(0.934 1)" fill="#000" font-size="108.6" style="font-family:'DejaVu Sans',sans-serif">d</text>
<g stroke="#2b2b2b" stroke-width="0.9">
<text x="1686" y="955.9" fill="#2b2b2b" font-size="37.5" font-weight="normal" textLength="180" lengthAdjust="spacingAndGlyphs">Ni/SiO<tspan font-size="20.6">2</tspan>-2/1</text>
<text x="1686" y="1061.8" fill="#2b2b2b" font-size="37.5" font-weight="normal" textLength="182" lengthAdjust="spacingAndGlyphs">Ni/SiO<tspan font-size="20.6">2</tspan>-2/0</text>
<text x="1687" y="1248.6" fill="#2b2b2b" font-size="37.5" font-weight="normal" textLength="179" lengthAdjust="spacingAndGlyphs">Ni/SiO<tspan font-size="20.6">2</tspan>-0/1</text>
<text x="1687" y="1450.4" fill="#2b2b2b" font-size="37.5" font-weight="normal" textLength="181" lengthAdjust="spacingAndGlyphs">Ni/SiO<tspan font-size="20.6">2</tspan>-0/0</text>
</g>
<path d="M1114 987 L1115.4 986.5 L1116.9 986.3 L1118.7 986.2 L1120.7 986.9 L1122.8 986.6 L1125.1 986.2 L1127.5 986.4 L1130 986.8 L1132.6 986.2 L1135.4 986.4 L1138.2 986 L1141 986 L1144 986.5 L1146.9 986.4 L1149.9 985.9 L1152.9 985.7 L1155.9 985.6 L1158.8 986 L1161.7 985.8 L1164.6 985.5 L1167.4 985.3 L1170.1 985.6 L1172.7 985.5 L1175.3 985.5 L1177.6 985.1 L1179.9 984.6 L1182 984.3 L1185.3 984.5 L1188.4 983.8 L1191.2 983.6 L1194 982.4 L1196.5 982.5 L1199 981.5 L1201.4 981.3 L1203.7 980.7 L1205.9 979.7 L1208.2 978.7 L1210.5 978.9 L1212.8 978 L1215.2 977.8 L1217.7 976.9 L1220.3 976.5 L1223 976.8 L1225.4 976.2 L1227.9 976 L1230.5 976.1 L1233.1 976.4 L1235.7 975.9 L1238.4 976.5 L1241.1 976.5 L1243.8 976.7 L1246.6 976.6 L1249.3 977.3 L1252 977.6 L1254.8 977.8 L1257.4 977.5 L1260.1 978 L1262.7 977.9 L1265.2 978.4 L1267.7 977.9 L1270.1 978.8 L1272.4 978.9 L1275.5 978.6 L1278.5 978.8 L1281.4 979 L1284.4 979.2 L1287.2 978.9 L1290 979.9 L1292.7 979.4 L1295.3 979.5 L1297.9 979.4 L1300.4 979.5 L1302.8 979.9 L1305.1 979 L1307.3 978.6 L1309.4 978.7 L1312.7 977 L1315.6 975.1 L1318.2 973.6 L1320.5 971.3 L1322.7 968.9 L1325 966.7 L1327.4 963.8 L1330 962.3 L1332.5 960.4 L1335 957.9 L1337.6 956.1 L1340.2 954.5 L1342.8 952.7 L1345.6 950.6 L1348.4 948.7 L1351.4 947.2 L1354.5 945.4 L1356.8 944.7 L1359.2 943.7 L1361.7 941.9 L1364.3 941.1 L1366.9 940.2 L1369.6 938.5 L1372.3 938 L1375 937.1 L1377.6 935.7 L1380.2 935 L1382.7 934.7 L1385.1 933.8 L1387.4 933.3 L1390.5 933.5 L1393.4 933.3 L1396.2 933.1 L1398.9 933.4 L1401.5 934.1 L1404.1 934.9 L1406.7 936.2 L1409.3 936.9 L1412 937.9 L1414.7 938.8 L1417.5 940.2 L1420.2 940.9 L1422.9 942.9 L1425.7 944.9 L1428.4 946.4 L1431.1 947.2 L1433.9 948.7 L1436.6 949.9 L1439.3 950.6 L1442 951.5 L1444.7 951.8 L1447.4 952.7 L1450.1 953.3 L1452.8 953.2 L1455.5 953.6 L1458.3 954.5 L1461 954.2 L1463.5 954.2 L1466 953.7 L1468.5 953.4 L1471 953 L1473.5 952.4 L1476 950.9 L1478.5 950.6 L1481 949.4 L1483.5 948.9 L1486 947.5 L1488.7 946.5 L1491.5 945.5 L1494.2 943.7 L1496.9 941.8 L1499.6 940.4 L1502.4 938.6 L1505.1 937.3 L1507.8 934.9 L1510.5 933.2 L1513.3 931.8 L1516.1 929.4 L1519 927.9 L1521.8 926.2 L1524.7 923.9 L1527.4 921.7 L1530.1 920.1 L1532.6 918.5 L1535 916.7 L1538.3 914.7 L1541.3 912.8 L1544.1 911.4 L1546.7 910.2 L1549.2 909.1 L1551.6 908.5 L1555 908.1 L1558.1 909 L1561 910.6 L1564 912.9 L1567 916.7 L1570 921.7 L1573 927 L1576 933.6 L1578.5 938.8 L1581 944.9 L1583.5 951.1 L1586 956.9 L1588.5 961.8 L1591.3 967 L1593.9 971.5 L1596.9 975.5 L1600.8 978.4 L1602.6 979.6 L1604.2 979.8 L1605.7 980.7 L1607.3 981.6 L1609.3 981.4 L1611.9 981.9 L1615.3 982.1 L1619.7 982.1 L1625.4 983 L1627 982.5 L1628.7 983 L1630.3 982.5 L1632 982.5 L1633.8 983.3 L1635.6 983 L1637.4 982.7 L1639.3 983.1 L1641.2 983.2 L1643.2 983.5 L1645.2 983 L1647.2 983.1 L1649.3 983.8 L1651.5 983.7 L1653.7 983.2 L1656 983.4 L1658.3 983.5 L1660.7 983.8 L1663.1 983.8 L1665.6 984.1 L1668.2 984.1 L1670.9 983.8 L1673.6 984.1 L1676.4 984.1 L1679.2 984.2 L1682.1 984 L1685.1 984.3 L1688.2 984.3 L1691.4 984.6 L1694.6 983.9 L1697.9 984.7 L1701.3 983.9 L1704.8 984.7 L1708.4 984.6 L1712 984.6 L1715.8 985.1 L1717.7 984.8 L1719.7 984.7 L1721.7 985.1 L1723.8 985.2 L1726 985 L1728.2 984.9 L1730.5 985 L1732.8 985 L1735.2 985.3 L1737.6 985 L1740.1 985.2 L1742.7 985.4 L1745.2 985.3 L1747.8 985.3 L1750.5 985.7 L1753.2 985.9 L1755.9 985.6 L1758.7 985.6 L1761.5 985.4 L1764.3 985.6 L1767.1 985.5 L1770 986 L1772.9 986.1 L1775.8 985.7 L1778.7 986.5 L1781.7 986 L1784.6 986.6 L1787.6 986.6 L1790.6 986.8 L1793.6 986.2 L1796.6 986.4 L1799.6 986.9 L1802.6 986.2 L1805.6 986.3 L1808.6 986.8 L1811.6 986.8 L1814.5 987.3 L1817.5 987.2 L1820.5 987.1 L1823.4 987.6 L1826.4 987.2 L1829.3 987.3 L1832.2 987.5 L1835 987.3 L1837.9 987.3 L1840.7 987.6 L1843.5 987.4 L1846.2 988 L1849 987.8 L1851.7 987.8 L1854.3 987.4 L1856.9 987.7 L1859.5 987.8 L1862 988 L1864.5 988.1 L1867 988.4 L1869.3 988.6 L1871.7 988.2 L1874 988.2 L1876.2 988.4 L1878.4 988.8 L1880.5 988.2 L1882.5 988.5 L1884.5 988.8 L1886.4 988.2 L1888.2 988.4 L1890 989 L1891.7 988.9 L1893.3 988.7 L1894.9 988.4 L1896.3 989.1 L1897.7 988.9 L1899 989.1" fill="none" stroke="#d4243a" stroke-width="3.6" stroke-linejoin="round"/>
<path d="M1114 1091.8 L1115.4 1091.7 L1116.9 1091.3 L1118.7 1091 L1120.7 1091.1 L1122.8 1091.3 L1125.1 1091.2 L1127.5 1090.9 L1130 1090.9 L1132.6 1091.2 L1135.4 1091.2 L1138.2 1090.9 L1141 1091.4 L1144 1091.1 L1146.9 1090.5 L1149.9 1090.8 L1152.9 1091 L1155.9 1090.5 L1158.8 1090.8 L1161.7 1090.1 L1164.6 1090.2 L1167.4 1090.6 L1170.1 1090.3 L1172.7 1090.2 L1175.3 1089.6 L1177.6 1089.8 L1179.9 1089.6 L1182 1089.2 L1185.3 1089.2 L1188.4 1088.6 L1191.2 1088.5 L1194 1087.6 L1196.5 1086.8 L1199 1086 L1201.4 1085.3 L1203.7 1085.2 L1205.9 1084 L1208.2 1083.4 L1210.5 1082.8 L1212.8 1082.6 L1215.2 1082.4 L1217.7 1081.8 L1220.3 1081.6 L1223 1080.7 L1225.4 1080.5 L1227.9 1081.1 L1230.5 1080.7 L1233.1 1081.1 L1235.7 1080.8 L1238.4 1080.8 L1241.1 1081 L1243.8 1081 L1246.6 1081.9 L1249.3 1081.8 L1252 1081.8 L1254.8 1082.1 L1257.4 1082.2 L1260.1 1082.1 L1262.7 1083.1 L1265.2 1083 L1267.7 1083.4 L1270.1 1083.1 L1272.4 1083.3 L1275.5 1083.1 L1278.5 1083 L1281.5 1084 L1284.5 1084.1 L1287.4 1083.8 L1290.2 1084.5 L1293 1084.5 L1295.6 1084.1 L1298.2 1084.4 L1300.7 1084.7 L1303.1 1084.2 L1305.3 1084.4 L1307.4 1083.4 L1309.4 1083.1 L1313.2 1081.9 L1315.9 1079.3 L1318.1 1076.9 L1320.2 1074.6 L1322.6 1071.5 L1325.8 1069.1 L1327.9 1067.2 L1330.2 1065.7 L1332.6 1064.5 L1335.2 1063 L1337.8 1062.3 L1340.5 1060.2 L1343.2 1059 L1346 1057 L1348.9 1055.8 L1351.7 1054 L1354.5 1052.3 L1356.9 1050.4 L1359.5 1048.7 L1362.1 1047.4 L1364.9 1045 L1367.6 1042.8 L1370.3 1040.7 L1373.1 1038.7 L1375.8 1036.7 L1378.4 1034.7 L1380.8 1033.6 L1383.2 1031.8 L1385.4 1030.4 L1387.4 1030 L1391 1028.2 L1393.8 1028.1 L1396.1 1029 L1398.3 1029.2 L1400.8 1030.6 L1403.8 1032.2 L1406.2 1033.1 L1408.7 1033.7 L1411.4 1035.2 L1414.2 1037 L1417 1038.2 L1419.9 1040.3 L1422.8 1041.1 L1425.6 1043.3 L1428.4 1044.2 L1431.2 1045.2 L1434 1046.7 L1436.9 1047.8 L1439.8 1049.6 L1442.6 1050.4 L1445.4 1052.1 L1448.1 1052.9 L1450.6 1053.6 L1453 1054.3 L1456.1 1055.5 L1458.8 1055.9 L1461.3 1057 L1463.7 1056.6 L1466.4 1056.9 L1469.5 1056.5 L1471.8 1055.8 L1474.2 1055.6 L1476.8 1054.5 L1479.4 1053.8 L1482.1 1052.7 L1484.9 1051.4 L1487.8 1050.4 L1490.9 1049 L1494 1048 L1496.3 1047.9 L1498.8 1046.5 L1501.4 1045.9 L1504.1 1044.5 L1506.8 1043.9 L1509.6 1042.7 L1512.4 1041.9 L1515.1 1040.8 L1517.8 1039.8 L1520.3 1039.3 L1522.8 1038.6 L1525 1038 L1527 1038.2 L1530.6 1037.5 L1533.4 1037.7 L1535.7 1038.7 L1537.9 1039.5 L1540.4 1040.9 L1543.4 1042.5 L1545.8 1043.3 L1548.3 1045.2 L1551 1046.9 L1553.8 1049.7 L1556.6 1051.9 L1559.5 1054 L1562.4 1056.3 L1565.2 1058.7 L1568 1060.8 L1570.7 1062.3 L1573.3 1064.8 L1575.9 1066.2 L1578.5 1068.4 L1581.1 1069.8 L1583.8 1071.6 L1586.6 1074 L1589.5 1075.6 L1592.6 1077.2 L1594.7 1077.7 L1596.6 1078.8 L1598.4 1080 L1600.2 1081.1 L1602 1082.3 L1603.9 1083.4 L1605.9 1084 L1608.2 1085.2 L1610.8 1086.5 L1613.7 1086.9 L1617.1 1088.3 L1621 1088.8 L1625.4 1089.6 L1627.1 1089.4 L1628.9 1089.8 L1630.6 1090.2 L1632.4 1090.1 L1634.2 1090 L1636.1 1090.9 L1637.9 1091 L1639.8 1090.7 L1641.8 1090.6 L1643.8 1091.5 L1645.8 1091.4 L1647.8 1091 L1649.9 1091.3 L1652.1 1091.3 L1654.3 1092 L1656.5 1091.6 L1658.8 1092.3 L1661.2 1092.2 L1663.6 1091.7 L1666.1 1092.4 L1668.6 1092.2 L1671.2 1092.6 L1673.9 1092.7 L1676.7 1092.3 L1679.5 1092.2 L1682.4 1093.1 L1685.3 1092.7 L1688.4 1093.2 L1691.5 1093.1 L1694.7 1093.2 L1698 1093.3 L1701.4 1093.2 L1704.8 1093.2 L1708.4 1092.9 L1712 1093.6 L1715.8 1093.4 L1717.7 1093.6 L1719.7 1094 L1721.7 1093.3 L1723.8 1093.9 L1726 1093.3 L1728.2 1094 L1730.5 1094.1 L1732.8 1093.7 L1735.2 1094 L1737.6 1094.4 L1740.1 1094.2 L1742.7 1094.2 L1745.2 1094 L1747.8 1093.8 L1750.5 1094.2 L1753.2 1094.3 L1755.9 1094.1 L1758.7 1094.3 L1761.5 1094.2 L1764.3 1094.7 L1767.1 1094.8 L1770 1094.4 L1772.9 1094.5 L1775.8 1094.8 L1778.7 1094.8 L1781.7 1095.3 L1784.6 1094.8 L1787.6 1094.8 L1790.6 1095.4 L1793.6 1094.8 L1796.6 1095.2 L1799.6 1095 L1802.6 1095.5 L1805.6 1095.3 L1808.6 1095.6 L1811.6 1095.1 L1814.5 1095.6 L1817.5 1095.6 L1820.5 1095.5 L1823.4 1095.8 L1826.4 1095.9 L1829.3 1095.3 L1832.2 1095.5 L1835 1095.6 L1837.9 1095.5 L1840.7 1095.5 L1843.5 1095.7 L1846.2 1095.7 L1849 1096.2 L1851.7 1096 L1854.3 1095.7 L1856.9 1096 L1859.5 1096.1 L1862 1096.1 L1864.5 1095.9 L1867 1095.9 L1869.3 1095.9 L1871.7 1096.8 L1874 1096.6 L1876.2 1096 L1878.4 1096.7 L1880.5 1096.9 L1882.5 1096.6 L1884.5 1096.2 L1886.4 1096.6 L1888.2 1096.6 L1890 1096.4 L1891.7 1096.7 L1893.3 1096.3 L1894.9 1097.1 L1896.3 1096.9 L1897.7 1096.9 L1899 1097.2" fill="none" stroke="#20189a" stroke-width="4.0" stroke-linejoin="round"/>
<path d="M1114 1276.2 L1115.3 1275.8 L1116.8 1275.8 L1118.4 1275.7 L1120.2 1275.6 L1122.1 1276.2 L1124.1 1276.3 L1126.2 1275.7 L1128.4 1275.6 L1130.7 1276 L1133.1 1276.2 L1135.6 1276.2 L1138.2 1275.5 L1140.8 1276 L1143.5 1276 L1146.3 1275.9 L1149.1 1275.5 L1151.9 1275.3 L1154.8 1275.9 L1157.7 1275.4 L1160.6 1275.4 L1163.6 1275.5 L1166.5 1275.3 L1169.5 1275.6 L1172.4 1275 L1175.3 1274.8 L1178.2 1275.2 L1181.1 1275.2 L1184 1275.3 L1186.8 1275.1 L1189.5 1275.2 L1192.2 1275.1 L1194.8 1274.6 L1197.4 1274.5 L1199.8 1274.1 L1202.2 1274.1 L1204.5 1274.2 L1206.7 1273.6 L1209.7 1274 L1212.7 1273.2 L1215.6 1273.2 L1218.5 1273.4 L1221.4 1272.3 L1224.2 1271.9 L1227 1271.9 L1229.7 1271.3 L1232.4 1271.4 L1235.1 1270.4 L1237.7 1270.8 L1240.2 1270.4 L1242.8 1269.9 L1245.3 1269.2 L1247.7 1268.7 L1250.2 1268.7 L1252.5 1268.2 L1254.9 1267.8 L1257.2 1267.4 L1259.5 1267.1 L1261.7 1267.1 L1263.9 1266.9 L1266.1 1266.8 L1268.2 1265.9 L1270.3 1265.9 L1272.4 1265.8 L1275.7 1265.8 L1278.9 1265.5 L1282 1265.4 L1285 1265.3 L1287.9 1265.6 L1290.7 1265.9 L1293.4 1266.5 L1296 1266.7 L1298.6 1266.9 L1301 1267.2 L1303.3 1267.4 L1305.5 1267.4 L1307.7 1267.7 L1309.7 1267.3 L1311.7 1268 L1313.5 1268.1 L1317.8 1268.4 L1321.1 1269.6 L1323.8 1270.8 L1326 1271 L1327.9 1271.1 L1329.9 1269.8 L1333.1 1264.7 L1335.3 1257.5 L1338 1249.1 L1340.6 1244.2 L1343.4 1239.7 L1346.6 1234.4 L1350.4 1228.6 L1352.6 1226.3 L1355.1 1223.3 L1357.7 1220.7 L1360.5 1217.6 L1363.2 1214.7 L1366 1211.5 L1368.6 1207.9 L1371 1204 L1374 1198.6 L1376.9 1193.5 L1379.7 1187 L1382.4 1180.3 L1385 1174.4 L1387.4 1167.2 L1391 1155.7 L1394.3 1143.5 L1397.3 1131.9 L1399.7 1124.2 L1403.8 1124.2 L1406.1 1128.2 L1408.9 1134.5 L1412.2 1141.7 L1416 1150.9 L1418.2 1156.2 L1420.6 1161.7 L1423.1 1168.6 L1425.8 1175 L1428.5 1182.2 L1431.3 1189.1 L1434 1194.9 L1436.6 1200.4 L1439.2 1205.2 L1441.7 1209 L1444.3 1213.9 L1446.8 1217.4 L1449.4 1220.3 L1452 1224 L1454.5 1226.4 L1457.1 1228.7 L1459.7 1231.5 L1462.2 1232.7 L1464.8 1234.1 L1467.4 1234.4 L1470 1235.7 L1472.6 1235.6 L1475.1 1236.3 L1477.7 1237 L1480.3 1237.2 L1483 1237.9 L1485.8 1237.7 L1488.5 1237.8 L1491.1 1238.3 L1493.7 1238.2 L1496 1238.9 L1498.2 1239.3 L1501.8 1241.3 L1504.6 1243.4 L1507.3 1246.5 L1510.5 1249.8 L1512.9 1252 L1515.4 1255.9 L1518 1259.1 L1520.7 1263 L1523.7 1265.9 L1527 1268.3 L1529.1 1268.6 L1531 1269.4 L1532.8 1270 L1534.7 1270.3 L1536.8 1270.1 L1539.5 1269.4 L1542.7 1269.8 L1546.7 1269.4 L1551.6 1270 L1553.3 1270.4 L1555.2 1269.9 L1557.1 1270.7 L1559.1 1270.6 L1561.1 1270.4 L1563.2 1270.5 L1565.4 1270.8 L1567.7 1271.3 L1570 1271.2 L1572.4 1271 L1574.9 1271 L1577.4 1271.3 L1580 1272 L1582.6 1271.6 L1585.2 1272.1 L1587.9 1272 L1590.6 1272.5 L1593.4 1272.4 L1596.2 1272.4 L1599 1273.2 L1601.9 1273 L1604.8 1273.3 L1607.7 1273.5 L1610.6 1273.8 L1613.5 1273.1 L1616.5 1273.5 L1619.5 1273.5 L1622.4 1273.9 L1625.4 1274.3 L1627.6 1274.3 L1629.9 1273.7 L1632.1 1273.9 L1634.4 1274.6 L1636.7 1274.5 L1639 1274.3 L1641.4 1274.5 L1643.7 1274.2 L1646.1 1274.9 L1648.5 1274.6 L1650.9 1275 L1653.4 1274.9 L1655.8 1274.4 L1658.3 1274.7 L1660.8 1274.7 L1663.3 1275.3 L1665.8 1275.1 L1668.3 1274.6 L1670.8 1274.8 L1673.4 1275 L1676 1275.2 L1678.6 1275.3 L1681.1 1275.2 L1683.8 1275.2 L1686.4 1274.9 L1689 1275.5 L1691.6 1275.3 L1694.3 1275.1 L1696.9 1275.5 L1699.6 1276 L1702.3 1275.2 L1705 1275.4 L1707.7 1275.9 L1710.4 1275.6 L1713.1 1275.7 L1715.8 1275.9 L1718.5 1275.8 L1721.3 1276.1 L1724 1276.1 L1726.3 1276.6 L1728.7 1276.7 L1731.1 1275.9 L1733.6 1276.4 L1736.1 1276.6 L1738.6 1276.8 L1741.1 1276.8 L1743.7 1276.7 L1746.3 1276.8 L1748.9 1276.6 L1751.6 1276.6 L1754.2 1277.1 L1756.9 1277.2 L1759.6 1277.4 L1762.3 1277.2 L1765 1276.9 L1767.7 1277.4 L1770.4 1277.5 L1773.1 1277.3 L1775.8 1277.5 L1778.5 1277.3 L1781.2 1277.6 L1783.9 1277.5 L1786.6 1277.3 L1789.3 1277.6 L1791.9 1277.7 L1794.6 1278.3 L1797.2 1277.9 L1799.8 1277.9 L1802.4 1277.9 L1805 1277.9 L1807.5 1278.1 L1810 1278 L1812.5 1277.9 L1815 1278.7 L1817.4 1278.4 L1819.7 1278.5 L1822.1 1278.6 L1824.3 1278.5 L1826.6 1278.4 L1828.8 1278.4 L1830.9 1278.6 L1833 1278.7 L1835.1 1279.1 L1837.1 1279 L1839 1279.4 L1842.6 1278.9 L1846.1 1279.5 L1849.5 1279.3 L1852.9 1278.9 L1856.1 1279.1 L1859.3 1279.5 L1862.3 1279.9 L1865.3 1279.4 L1868.2 1279.9 L1870.9 1279.6 L1873.6 1280.1 L1876.2 1279.4 L1878.7 1279.8 L1881 1280.2 L1883.3 1279.7 L1885.5 1279.7 L1887.5 1279.6 L1889.5 1279.7 L1891.4 1279.8 L1893.1 1280.3 L1894.7 1279.9 L1896.3 1280.1 L1897.7 1279.9 L1899 1280.3" fill="none" stroke="#6a1ed0" stroke-width="3.8" stroke-linejoin="round"/>
<path d="M1114 1477.6 L1115.3 1477.3 L1116.9 1476.8 L1118.5 1477.1 L1120.4 1477.2 L1122.3 1476.7 L1124.4 1476.1 L1126.6 1476.6 L1129 1476.4 L1131.4 1475.8 L1133.9 1475.4 L1136.5 1475.2 L1139.2 1475.3 L1142 1475.4 L1144.8 1475 L1147.6 1475 L1150.5 1474.1 L1153.4 1474 L1156.4 1474.1 L1159.3 1473.7 L1162.3 1473.2 L1165.2 1473.2 L1168.1 1472.6 L1171 1472 L1173.8 1472 L1176.6 1471.4 L1179.3 1471.6 L1182 1471 L1184.5 1470.8 L1186.9 1470.5 L1189.4 1469.8 L1191.9 1469.6 L1194.5 1468.8 L1197 1469.1 L1199.5 1468.3 L1202.1 1468.2 L1204.7 1466.9 L1207.2 1466.9 L1209.8 1466.5 L1212.4 1465.7 L1215 1465 L1217.6 1464.5 L1220.2 1464 L1222.8 1464.1 L1225.4 1463 L1228 1463.1 L1230.6 1462.3 L1233.1 1461.9 L1235.7 1461.6 L1238.3 1461.1 L1240.9 1460.8 L1243.4 1460.4 L1246 1459.8 L1248.5 1459.8 L1251 1459.1 L1253.5 1459.2 L1256 1459 L1258.7 1458.8 L1261.5 1458.3 L1264.3 1458.6 L1267.1 1458.7 L1270 1458.2 L1273 1458 L1275.9 1458.3 L1278.9 1458.7 L1281.9 1458 L1284.8 1458 L1287.8 1458.5 L1290.7 1458.8 L1293.6 1459 L1296.4 1458.7 L1299.2 1459.4 L1302 1458.8 L1304.7 1459.4 L1307.3 1458.9 L1309.8 1458.9 L1312.2 1459 L1314.5 1459 L1316.7 1459.4 L1318.8 1459.4 L1320.8 1459 L1322.6 1459.6 L1324.3 1458.9 L1325.8 1458.5 L1332.9 1456.4 L1333.2 1453.4 L1334 1446.9 L1336.7 1437.6 L1339.6 1426.4 L1342.8 1415.5 L1346.3 1405.3 L1348.7 1400.9 L1351.2 1396.2 L1353.7 1392.5 L1356.5 1388.6 L1359.4 1385.2 L1362.7 1380.8 L1365.1 1377.6 L1367.9 1375.1 L1370.8 1371.3 L1373.8 1368.7 L1376.8 1364.9 L1379.8 1362.2 L1382.6 1358.7 L1385.2 1355.7 L1387.4 1351.6 L1391.4 1343.9 L1394.6 1335 L1397.2 1327 L1399.7 1319.6 L1402.9 1310.7 L1405.6 1303 L1407.9 1298.5 L1412 1302.6 L1414.1 1307.5 L1416.7 1313.6 L1419.7 1321 L1422.8 1329.3 L1425.8 1336.9 L1428.4 1343.6 L1431.8 1353.9 L1434.8 1362.6 L1437.7 1372 L1440.7 1380.5 L1443.7 1390.1 L1446.6 1398.9 L1449.6 1406.6 L1453 1413.8 L1455.4 1417.5 L1457.7 1420 L1460.2 1422.6 L1462.9 1424.8 L1466 1426.9 L1469.5 1427.7 L1471.7 1428.8 L1474.2 1429.1 L1476.9 1429.2 L1479.7 1429.4 L1482.6 1429.7 L1485.6 1429.1 L1488.5 1429.7 L1491.2 1429.2 L1493.8 1429.7 L1496.2 1430 L1498.2 1429.7 L1502.3 1431.7 L1505.1 1433.4 L1507.5 1435 L1510.5 1437.9 L1512.9 1440.9 L1515.4 1445.3 L1518 1448.5 L1520.7 1453.3 L1523.7 1456 L1527 1459 L1529.1 1459.4 L1530.8 1460.1 L1532.5 1460.8 L1534.2 1460.4 L1536.3 1460.5 L1538.8 1460.9 L1542.1 1460.6 L1546.3 1460.8 L1551.6 1461.2 L1553.3 1460.5 L1555.1 1460.8 L1556.9 1461.5 L1558.8 1461.5 L1560.8 1461.1 L1562.8 1461.7 L1565 1461.6 L1567.1 1461.9 L1569.3 1461.8 L1571.6 1461.9 L1574 1463 L1576.4 1462.6 L1578.8 1463.3 L1581.3 1462.8 L1583.9 1463.3 L1586.5 1463.2 L1589.1 1463.7 L1591.8 1463.6 L1594.6 1464.3 L1597.4 1464 L1600.2 1464.8 L1603.1 1464.8 L1606 1464.6 L1608.9 1465.1 L1611.9 1465.4 L1614.9 1466 L1618 1465.7 L1621.1 1465.8 L1624.2 1466.7 L1627.3 1466.9 L1630.5 1467 L1633.7 1466.8 L1635.8 1466.9 L1638 1467.1 L1640.2 1467.1 L1642.5 1467.2 L1644.8 1467.8 L1647.1 1467.8 L1649.5 1468.1 L1651.9 1468.1 L1654.4 1468 L1656.9 1468.8 L1659.4 1468.9 L1661.9 1469 L1664.5 1469.2 L1667.1 1469.5 L1669.7 1469.9 L1672.3 1470 L1675 1470 L1677.7 1469.9 L1680.3 1470 L1683 1470.3 L1685.7 1471 L1688.5 1470.6 L1691.2 1470.8 L1693.9 1471 L1696.6 1471 L1699.3 1471.9 L1702 1471.2 L1704.8 1471.9 L1707.5 1472.4 L1710.2 1471.9 L1712.8 1472.4 L1715.5 1472.4 L1718.2 1472.5 L1720.8 1472.6 L1723.4 1472.7 L1726 1473.5 L1728.6 1473.6 L1731.1 1473.9 L1733.6 1473.3 L1736.1 1474 L1738.6 1473.9 L1741 1474.3 L1743.4 1474.4 L1745.7 1474.3 L1748 1475.1 L1750.3 1474.3 L1752.5 1475.1 L1754.7 1475.4 L1756.8 1475.2 L1760 1475.5 L1763.1 1476 L1766.2 1475.6 L1769.2 1476.1 L1772.1 1476.4 L1775 1476.3 L1777.9 1476.8 L1780.7 1476.6 L1783.5 1476.9 L1786.2 1477.2 L1788.9 1477.4 L1791.6 1477.3 L1794.2 1477.7 L1796.7 1477.8 L1799.3 1477.7 L1801.8 1478.2 L1804.3 1478 L1806.7 1478.8 L1809.1 1478.5 L1811.5 1478.9 L1813.9 1478.8 L1816.2 1478.9 L1818.6 1478.8 L1820.9 1478.9 L1823.2 1479.7 L1825.5 1479.5 L1827.7 1479.6 L1830 1479.7 L1832.2 1480.1 L1834.4 1479.7 L1836.7 1479.7 L1838.9 1480.4 L1841.9 1480.2 L1844.9 1480.5 L1847.9 1480.7 L1850.9 1480.9 L1853.9 1480.9 L1856.9 1480.3 L1859.8 1480.7 L1862.8 1481.1 L1865.7 1481.2 L1868.5 1480.6 L1871.3 1480.7 L1874.1 1480.8 L1876.7 1480.7 L1879.3 1480.9 L1881.8 1481.4 L1884.2 1481.1 L1886.5 1481.1 L1888.7 1480.8 L1890.8 1481.1 L1892.7 1481.7 L1894.5 1481.4 L1896.2 1481.2 L1897.7 1481.3 L1899 1481.6" fill="none" stroke="#111" stroke-width="3.8" stroke-linejoin="round"/>
<g fill="#000">
<rect x="24" y="27" width="1926" height="8.5"/>
<rect x="20" y="1663" width="1930" height="8.5"/>
<rect x="1941" y="27" width="9" height="1644"/>
<rect x="23.3" y="27" width="7.4" height="820"/>
<rect x="21.5" y="846" width="6.7" height="825"/>
<rect x="20.5" y="846" width="1" height="825" fill="#777"/>
<rect x="28" y="846" width="3" height="49"/>
<rect x="28.2" y="895" width="2.8" height="764" fill="#d6d6d6"/>
<rect x="978" y="27" width="7.5" height="824"/>
<rect x="980.5" y="846" width="5.5" height="825"/>
<polygon points="24,843 980,843 1941,846 1941,851 24,851"/>
</g>
</svg></body></html>
